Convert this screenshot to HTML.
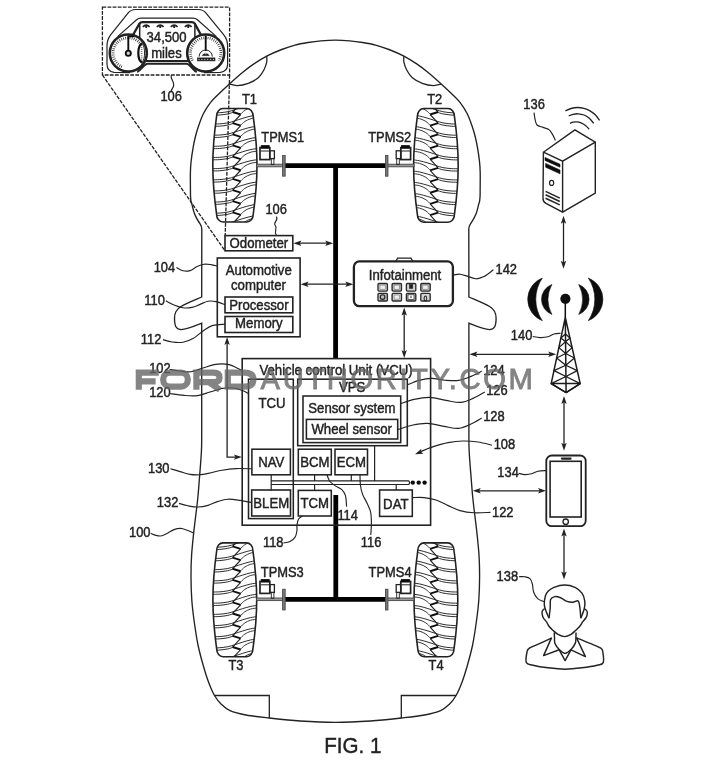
<!DOCTYPE html>
<html lang="en">
<head>
<meta charset="utf-8">
<title>FIG. 1 - Vehicle TPMS system diagram</title>
<style>
html,body{margin:0;padding:0;background:#fff;}
body{width:720px;height:765px;overflow:hidden;font-family:"Liberation Sans",sans-serif;}
svg{display:block;}
svg text{font-family:"Liberation Sans",sans-serif;}
</style>
</head>
<body>
<svg width="720" height="765" viewBox="0 0 720 765">
<defs><filter id="soft" x="0" y="0" width="720" height="765" filterUnits="userSpaceOnUse"><feGaussianBlur stdDeviation="0.42"/></filter></defs>
<g filter="url(#soft)">
<rect x="-5" y="-5" width="730" height="775" fill="#fff"/>
<path d="M190.5,196 C190.48,192.07 190.28,178.3 190.4,172.4 C190.52,166.5 190.78,164.53 191.2,160.6 C191.62,156.67 192.22,152.73 192.9,148.8 C193.58,144.87 194.32,140.92 195.3,137 C196.28,133.08 197.43,129.22 198.8,125.3 C200.17,121.38 201.5,117.35 203.5,113.5 C205.5,109.65 208.48,105.25 210.8,102.2 C213.12,99.15 214.3,98.25 217.4,95.2 C220.5,92.15 225.17,87.73 229.4,83.9 C233.63,80.07 238.72,75.53 242.8,72.2 C246.88,68.87 249.92,66.58 253.9,63.9 C257.88,61.22 262.07,58.5 266.7,56.1 C271.33,53.7 276.98,51.33 281.7,49.5 C286.42,47.67 290.62,46.27 295,45.1 C299.38,43.93 303.67,43.22 308,42.5 C312.33,41.78 316.45,41.2 321,40.8 C325.55,40.4 330.53,40.1 335.3,40.1 C340.07,40.1 345.05,40.4 349.6,40.8 C354.15,41.2 358.27,41.78 362.6,42.5 C366.93,43.22 371.22,43.93 375.6,45.1 C379.98,46.27 384.18,47.67 388.9,49.5 C393.62,51.33 399.27,53.7 403.9,56.1 C408.53,58.5 412.72,61.22 416.7,63.9 C420.68,66.58 423.72,68.87 427.8,72.2 C431.88,75.53 436.97,80.07 441.2,83.9 C445.43,87.73 450.1,92.15 453.2,95.2 C456.3,98.25 457.48,99.15 459.8,102.2 C462.12,105.25 465.1,109.65 467.1,113.5 C469.1,117.35 470.43,121.38 471.8,125.3 C473.17,129.22 474.32,133.08 475.3,137 C476.28,140.92 477.02,144.87 477.7,148.8 C478.38,152.73 478.98,156.67 479.4,160.6 C479.82,164.53 480.08,166.5 480.2,172.4 C480.32,178.3 480.12,192.07 480.1,196" fill="none" stroke="#222" stroke-width="1.35" />
<path d="M201.7,436 C201.65,438.67 201.8,444.67 201.4,452 C201,459.33 199.93,472 199.3,480 C198.67,488 198.48,491.67 197.6,500 C196.72,508.33 195,520.83 194,530 C193,539.17 192.1,547.17 191.6,555 C191.1,562.83 190.97,569.5 191,577 C191.03,584.5 191.3,592.83 191.8,600 C192.3,607.17 192.97,612.5 194,620 C195.03,627.5 196.43,637.33 198,645 C199.57,652.67 201.65,659.83 203.4,666 C205.15,672.17 206.65,677.08 208.5,682 C210.35,686.92 212.33,691.75 214.5,695.5 C216.67,699.25 218.92,701.98 221.5,704.5 C224.08,707.02 225.92,708.85 230,710.6 C234.08,712.35 239.5,713.77 246,715 C252.5,716.23 260,717 269,718 C278,719 288.95,720.27 300,721 C311.05,721.73 323.53,722.4 335.3,722.4 C347.07,722.4 359.55,721.73 370.6,721 C381.65,720.27 392.6,719 401.6,718 C410.6,717 418.1,716.23 424.6,715 C431.1,713.77 436.52,712.35 440.6,710.6 C444.68,708.85 446.52,707.02 449.1,704.5 C451.68,701.98 453.93,699.25 456.1,695.5 C458.27,691.75 460.25,686.92 462.1,682 C463.95,677.08 465.45,672.17 467.2,666 C468.95,659.83 471.03,652.67 472.6,645 C474.17,637.33 475.57,627.5 476.6,620 C477.63,612.5 478.3,607.17 478.8,600 C479.3,592.83 479.57,584.5 479.6,577 C479.63,569.5 479.5,562.83 479,555 C478.5,547.17 477.6,539.17 476.6,530 C475.6,520.83 473.88,508.33 473,500 C472.12,491.67 471.93,488 471.3,480 C470.67,472 469.6,459.33 469.2,452 C468.8,444.67 468.95,438.67 468.9,436" fill="none" stroke="#222" stroke-width="1.35" />
<g>
<path d="M190.5,196 C190.6,201 191.2,203 192,204.6 C192.8,208 193.4,211 194.6,213.9 C196,217.6 198.4,221.4 200.4,224.4 C201.4,226 201.8,227 201.8,229 L201.7,297 C196,299.5 186,303.5 181,306.5 C176,309.5 174.5,313 174.5,318 C174.5,326 176,329.5 181,329.6 C187,329.6 196,325.5 201.7,323.2 L201.7,436" fill="none" stroke="#222" stroke-width="1.35" />
<path d="M266.7,56.1 C266.7,57.12 267.17,59.88 266.7,62.2 C266.23,64.52 265.3,67.4 263.9,70 C262.5,72.6 260.9,75.58 258.3,77.8 C255.7,80.02 251.82,82 248.3,83.3 C244.78,84.6 240.35,85.47 237.2,85.6 C234.05,85.73 230.7,84.35 229.4,84.1" fill="none" stroke="#222" stroke-width="1.3" />
<path d="M214.5,695.5 L269.3,695.5 L269.3,718" fill="none" stroke="#222" stroke-width="1.3" />
</g>
<g transform="translate(670.6,0) scale(-1,1)">
<path d="M190.5,196 C190.6,201 191.2,203 192,204.6 C192.8,208 193.4,211 194.6,213.9 C196,217.6 198.4,221.4 200.4,224.4 C201.4,226 201.8,227 201.8,229 L201.7,297 C196,299.5 186,303.5 181,306.5 C176,309.5 174.5,313 174.5,318 C174.5,326 176,329.5 181,329.6 C187,329.6 196,325.5 201.7,323.2 L201.7,436" fill="none" stroke="#222" stroke-width="1.35" />
<path d="M266.7,56.1 C266.7,57.12 267.17,59.88 266.7,62.2 C266.23,64.52 265.3,67.4 263.9,70 C262.5,72.6 260.9,75.58 258.3,77.8 C255.7,80.02 251.82,82 248.3,83.3 C244.78,84.6 240.35,85.47 237.2,85.6 C234.05,85.73 230.7,84.35 229.4,84.1" fill="none" stroke="#222" stroke-width="1.3" />
<path d="M214.5,695.5 L269.3,695.5 L269.3,718" fill="none" stroke="#222" stroke-width="1.3" />
</g>
<g>
<clipPath id="tc13"><path d="M223,108.5 L246.8,108.5 C250.38,108.5 253.2,111.84 253.2,116.1 C255.3,131.2 257,147.09 257,165.25 C257,183.41 255.3,199.3 253.2,214.4 C253.2,218.66 250.38,222 246.8,222 L223,222 C219.42,222 216.6,218.66 216.6,214.4 C214.5,199.3 212.8,183.41 212.8,165.25 C212.8,147.09 214.5,131.2 216.6,116.1 C216.6,111.84 219.42,108.5 223,108.5Z"/></clipPath>
<g clip-path="url(#tc13)">
<path d="M211.8,101.75 C213.13,101.72 217.12,101.75 219.8,101.55 C222.48,101.35 225.38,101.05 227.9,100.55 C230.42,100.05 232.4,99.32 234.9,98.55 C237.4,97.78 240.22,96.75 242.9,95.95 C245.58,95.15 248.48,94.28 251,93.75 C253.52,93.22 256.83,92.92 258,92.75" fill="none" stroke="#222" stroke-width="0.95" />
<path d="M211.8,104.05 C213.13,104.02 217.12,104.07 219.8,103.85 C222.48,103.63 225.63,103.22 227.9,102.75 C230.17,102.28 232.48,101.33 233.4,101.05" fill="none" stroke="#222" stroke-width="0.95" />
<path d="M240.4,103.25 C241.15,102.57 243.13,100.3 244.9,99.15 C246.67,98 248.82,96.98 251,96.35 C253.18,95.72 256.83,95.52 258,95.35" fill="none" stroke="#222" stroke-width="0.9" />
<path d="M232.7,100.85 L240.7,103.35" fill="none" stroke="#111" stroke-width="1.9" />
<path d="M240.7,103.35 L232.7,112" fill="none" stroke="#222" stroke-width="1.15" />
<path d="M211.8,112.9 C213.13,112.87 217.12,112.9 219.8,112.7 C222.48,112.5 225.38,112.2 227.9,111.7 C230.42,111.2 232.4,110.47 234.9,109.7 C237.4,108.93 240.22,107.9 242.9,107.1 C245.58,106.3 248.48,105.43 251,104.9 C253.52,104.37 256.83,104.07 258,103.9" fill="none" stroke="#222" stroke-width="0.95" />
<path d="M211.8,115.2 C213.13,115.17 217.12,115.22 219.8,115 C222.48,114.78 225.63,114.37 227.9,113.9 C230.17,113.43 232.48,112.48 233.4,112.2" fill="none" stroke="#222" stroke-width="0.95" />
<path d="M240.4,114.4 C241.15,113.72 243.13,111.45 244.9,110.3 C246.67,109.15 248.82,108.13 251,107.5 C253.18,106.87 256.83,106.67 258,106.5" fill="none" stroke="#222" stroke-width="0.9" />
<path d="M232.7,112 L240.7,114.5" fill="none" stroke="#111" stroke-width="1.9" />
<path d="M240.7,114.5 L232.7,123.15" fill="none" stroke="#222" stroke-width="1.15" />
<path d="M211.8,124.05 C213.13,124.02 217.12,124.05 219.8,123.85 C222.48,123.65 225.38,123.35 227.9,122.85 C230.42,122.35 232.4,121.62 234.9,120.85 C237.4,120.08 240.22,119.05 242.9,118.25 C245.58,117.45 248.48,116.58 251,116.05 C253.52,115.52 256.83,115.22 258,115.05" fill="none" stroke="#222" stroke-width="0.95" />
<path d="M211.8,126.35 C213.13,126.32 217.12,126.37 219.8,126.15 C222.48,125.93 225.63,125.52 227.9,125.05 C230.17,124.58 232.48,123.63 233.4,123.35" fill="none" stroke="#222" stroke-width="0.95" />
<path d="M240.4,125.55 C241.15,124.87 243.13,122.6 244.9,121.45 C246.67,120.3 248.82,119.28 251,118.65 C253.18,118.02 256.83,117.82 258,117.65" fill="none" stroke="#222" stroke-width="0.9" />
<path d="M232.7,123.15 L240.7,125.65" fill="none" stroke="#111" stroke-width="1.9" />
<path d="M240.7,125.65 L232.7,134.3" fill="none" stroke="#222" stroke-width="1.15" />
<path d="M211.8,135.2 C213.13,135.17 217.12,135.2 219.8,135 C222.48,134.8 225.38,134.5 227.9,134 C230.42,133.5 232.4,132.77 234.9,132 C237.4,131.23 240.22,130.2 242.9,129.4 C245.58,128.6 248.48,127.73 251,127.2 C253.52,126.67 256.83,126.37 258,126.2" fill="none" stroke="#222" stroke-width="0.95" />
<path d="M211.8,137.5 C213.13,137.47 217.12,137.52 219.8,137.3 C222.48,137.08 225.63,136.67 227.9,136.2 C230.17,135.73 232.48,134.78 233.4,134.5" fill="none" stroke="#222" stroke-width="0.95" />
<path d="M240.4,136.7 C241.15,136.02 243.13,133.75 244.9,132.6 C246.67,131.45 248.82,130.43 251,129.8 C253.18,129.17 256.83,128.97 258,128.8" fill="none" stroke="#222" stroke-width="0.9" />
<path d="M232.7,134.3 L240.7,136.8" fill="none" stroke="#111" stroke-width="1.9" />
<path d="M240.7,136.8 L232.7,145.45" fill="none" stroke="#222" stroke-width="1.15" />
<path d="M211.8,146.35 C213.13,146.32 217.12,146.35 219.8,146.15 C222.48,145.95 225.38,145.65 227.9,145.15 C230.42,144.65 232.4,143.92 234.9,143.15 C237.4,142.38 240.22,141.35 242.9,140.55 C245.58,139.75 248.48,138.88 251,138.35 C253.52,137.82 256.83,137.52 258,137.35" fill="none" stroke="#222" stroke-width="0.95" />
<path d="M211.8,148.65 C213.13,148.62 217.12,148.67 219.8,148.45 C222.48,148.23 225.63,147.82 227.9,147.35 C230.17,146.88 232.48,145.93 233.4,145.65" fill="none" stroke="#222" stroke-width="0.95" />
<path d="M240.4,147.85 C241.15,147.17 243.13,144.9 244.9,143.75 C246.67,142.6 248.82,141.58 251,140.95 C253.18,140.32 256.83,140.12 258,139.95" fill="none" stroke="#222" stroke-width="0.9" />
<path d="M232.7,145.45 L240.7,147.95" fill="none" stroke="#111" stroke-width="1.9" />
<path d="M240.7,147.95 L232.7,156.6" fill="none" stroke="#222" stroke-width="1.15" />
<path d="M211.8,157.5 C213.13,157.47 217.12,157.5 219.8,157.3 C222.48,157.1 225.38,156.8 227.9,156.3 C230.42,155.8 232.4,155.07 234.9,154.3 C237.4,153.53 240.22,152.5 242.9,151.7 C245.58,150.9 248.48,150.03 251,149.5 C253.52,148.97 256.83,148.67 258,148.5" fill="none" stroke="#222" stroke-width="0.95" />
<path d="M211.8,159.8 C213.13,159.77 217.12,159.82 219.8,159.6 C222.48,159.38 225.63,158.97 227.9,158.5 C230.17,158.03 232.48,157.08 233.4,156.8" fill="none" stroke="#222" stroke-width="0.95" />
<path d="M240.4,159 C241.15,158.32 243.13,156.05 244.9,154.9 C246.67,153.75 248.82,152.73 251,152.1 C253.18,151.47 256.83,151.27 258,151.1" fill="none" stroke="#222" stroke-width="0.9" />
<path d="M232.7,156.6 L240.7,159.1" fill="none" stroke="#111" stroke-width="1.9" />
<path d="M240.7,159.1 L232.7,167.75" fill="none" stroke="#222" stroke-width="1.15" />
<path d="M211.8,168.65 C213.13,168.62 217.12,168.65 219.8,168.45 C222.48,168.25 225.38,167.95 227.9,167.45 C230.42,166.95 232.4,166.22 234.9,165.45 C237.4,164.68 240.22,163.65 242.9,162.85 C245.58,162.05 248.48,161.18 251,160.65 C253.52,160.12 256.83,159.82 258,159.65" fill="none" stroke="#222" stroke-width="0.95" />
<path d="M211.8,170.95 C213.13,170.92 217.12,170.97 219.8,170.75 C222.48,170.53 225.63,170.12 227.9,169.65 C230.17,169.18 232.48,168.23 233.4,167.95" fill="none" stroke="#222" stroke-width="0.95" />
<path d="M240.4,170.15 C241.15,169.47 243.13,167.2 244.9,166.05 C246.67,164.9 248.82,163.88 251,163.25 C253.18,162.62 256.83,162.42 258,162.25" fill="none" stroke="#222" stroke-width="0.9" />
<path d="M232.7,167.75 L240.7,170.25" fill="none" stroke="#111" stroke-width="1.9" />
<path d="M240.7,170.25 L232.7,178.9" fill="none" stroke="#222" stroke-width="1.15" />
<path d="M211.8,179.8 C213.13,179.77 217.12,179.8 219.8,179.6 C222.48,179.4 225.38,179.1 227.9,178.6 C230.42,178.1 232.4,177.37 234.9,176.6 C237.4,175.83 240.22,174.8 242.9,174 C245.58,173.2 248.48,172.33 251,171.8 C253.52,171.27 256.83,170.97 258,170.8" fill="none" stroke="#222" stroke-width="0.95" />
<path d="M211.8,182.1 C213.13,182.07 217.12,182.12 219.8,181.9 C222.48,181.68 225.63,181.27 227.9,180.8 C230.17,180.33 232.48,179.38 233.4,179.1" fill="none" stroke="#222" stroke-width="0.95" />
<path d="M240.4,181.3 C241.15,180.62 243.13,178.35 244.9,177.2 C246.67,176.05 248.82,175.03 251,174.4 C253.18,173.77 256.83,173.57 258,173.4" fill="none" stroke="#222" stroke-width="0.9" />
<path d="M232.7,178.9 L240.7,181.4" fill="none" stroke="#111" stroke-width="1.9" />
<path d="M240.7,181.4 L232.7,190.05" fill="none" stroke="#222" stroke-width="1.15" />
<path d="M211.8,190.95 C213.13,190.92 217.12,190.95 219.8,190.75 C222.48,190.55 225.38,190.25 227.9,189.75 C230.42,189.25 232.4,188.52 234.9,187.75 C237.4,186.98 240.22,185.95 242.9,185.15 C245.58,184.35 248.48,183.48 251,182.95 C253.52,182.42 256.83,182.12 258,181.95" fill="none" stroke="#222" stroke-width="0.95" />
<path d="M211.8,193.25 C213.13,193.22 217.12,193.27 219.8,193.05 C222.48,192.83 225.63,192.42 227.9,191.95 C230.17,191.48 232.48,190.53 233.4,190.25" fill="none" stroke="#222" stroke-width="0.95" />
<path d="M240.4,192.45 C241.15,191.77 243.13,189.5 244.9,188.35 C246.67,187.2 248.82,186.18 251,185.55 C253.18,184.92 256.83,184.72 258,184.55" fill="none" stroke="#222" stroke-width="0.9" />
<path d="M232.7,190.05 L240.7,192.55" fill="none" stroke="#111" stroke-width="1.9" />
<path d="M240.7,192.55 L232.7,201.2" fill="none" stroke="#222" stroke-width="1.15" />
<path d="M211.8,202.1 C213.13,202.07 217.12,202.1 219.8,201.9 C222.48,201.7 225.38,201.4 227.9,200.9 C230.42,200.4 232.4,199.67 234.9,198.9 C237.4,198.13 240.22,197.1 242.9,196.3 C245.58,195.5 248.48,194.63 251,194.1 C253.52,193.57 256.83,193.27 258,193.1" fill="none" stroke="#222" stroke-width="0.95" />
<path d="M211.8,204.4 C213.13,204.37 217.12,204.42 219.8,204.2 C222.48,203.98 225.63,203.57 227.9,203.1 C230.17,202.63 232.48,201.68 233.4,201.4" fill="none" stroke="#222" stroke-width="0.95" />
<path d="M240.4,203.6 C241.15,202.92 243.13,200.65 244.9,199.5 C246.67,198.35 248.82,197.33 251,196.7 C253.18,196.07 256.83,195.87 258,195.7" fill="none" stroke="#222" stroke-width="0.9" />
<path d="M232.7,201.2 L240.7,203.7" fill="none" stroke="#111" stroke-width="1.9" />
<path d="M240.7,203.7 L232.7,212.35" fill="none" stroke="#222" stroke-width="1.15" />
<path d="M211.8,213.25 C213.13,213.22 217.12,213.25 219.8,213.05 C222.48,212.85 225.38,212.55 227.9,212.05 C230.42,211.55 232.4,210.82 234.9,210.05 C237.4,209.28 240.22,208.25 242.9,207.45 C245.58,206.65 248.48,205.78 251,205.25 C253.52,204.72 256.83,204.42 258,204.25" fill="none" stroke="#222" stroke-width="0.95" />
<path d="M211.8,215.55 C213.13,215.52 217.12,215.57 219.8,215.35 C222.48,215.13 225.63,214.72 227.9,214.25 C230.17,213.78 232.48,212.83 233.4,212.55" fill="none" stroke="#222" stroke-width="0.95" />
<path d="M240.4,214.75 C241.15,214.07 243.13,211.8 244.9,210.65 C246.67,209.5 248.82,208.48 251,207.85 C253.18,207.22 256.83,207.02 258,206.85" fill="none" stroke="#222" stroke-width="0.9" />
<path d="M232.7,212.35 L240.7,214.85" fill="none" stroke="#111" stroke-width="1.9" />
<path d="M240.7,214.85 L232.7,223.5" fill="none" stroke="#222" stroke-width="1.15" />
<path d="M211.8,224.4 C213.13,224.37 217.12,224.4 219.8,224.2 C222.48,224 225.38,223.7 227.9,223.2 C230.42,222.7 232.4,221.97 234.9,221.2 C237.4,220.43 240.22,219.4 242.9,218.6 C245.58,217.8 248.48,216.93 251,216.4 C253.52,215.87 256.83,215.57 258,215.4" fill="none" stroke="#222" stroke-width="0.95" />
<path d="M211.8,226.7 C213.13,226.67 217.12,226.72 219.8,226.5 C222.48,226.28 225.63,225.87 227.9,225.4 C230.17,224.93 232.48,223.98 233.4,223.7" fill="none" stroke="#222" stroke-width="0.95" />
<path d="M240.4,225.9 C241.15,225.22 243.13,222.95 244.9,221.8 C246.67,220.65 248.82,219.63 251,219 C253.18,218.37 256.83,218.17 258,218" fill="none" stroke="#222" stroke-width="0.9" />
<path d="M232.7,223.5 L240.7,226" fill="none" stroke="#111" stroke-width="1.9" />
<path d="M240.7,226 L232.7,234.65" fill="none" stroke="#222" stroke-width="1.15" />
<path d="M211.8,235.55 C213.13,235.52 217.12,235.55 219.8,235.35 C222.48,235.15 225.38,234.85 227.9,234.35 C230.42,233.85 232.4,233.12 234.9,232.35 C237.4,231.58 240.22,230.55 242.9,229.75 C245.58,228.95 248.48,228.08 251,227.55 C253.52,227.02 256.83,226.72 258,226.55" fill="none" stroke="#222" stroke-width="0.95" />
<path d="M211.8,237.85 C213.13,237.82 217.12,237.87 219.8,237.65 C222.48,237.43 225.63,237.02 227.9,236.55 C230.17,236.08 232.48,235.13 233.4,234.85" fill="none" stroke="#222" stroke-width="0.95" />
<path d="M240.4,237.05 C241.15,236.37 243.13,234.1 244.9,232.95 C246.67,231.8 248.82,230.78 251,230.15 C253.18,229.52 256.83,229.32 258,229.15" fill="none" stroke="#222" stroke-width="0.9" />
<path d="M232.7,234.65 L240.7,237.15" fill="none" stroke="#111" stroke-width="1.9" />
<path d="M240.7,237.15 L232.7,245.8" fill="none" stroke="#222" stroke-width="1.15" />
</g>
<path d="M223,108.5 L246.8,108.5 C250.38,108.5 253.2,111.84 253.2,116.1 C255.3,131.2 257,147.09 257,165.25 C257,183.41 255.3,199.3 253.2,214.4 C253.2,218.66 250.38,222 246.8,222 L223,222 C219.42,222 216.6,218.66 216.6,214.4 C214.5,199.3 212.8,183.41 212.8,165.25 C212.8,147.09 214.5,131.2 216.6,116.1 C216.6,111.84 219.42,108.5 223,108.5Z" fill="none" stroke="#222" stroke-width="1.6" />
</g>
<g transform="translate(871.8,0) scale(-1,1)">
<clipPath id="tc84"><path d="M423.8,108.5 L448,108.5 C451.58,108.5 454.4,111.84 454.4,116.1 C456.5,131.26 458.2,147.19 458.2,165.4 C458.2,183.61 456.5,199.54 454.4,214.7 C454.4,218.96 451.58,222.3 448,222.3 L423.8,222.3 C420.22,222.3 417.4,218.96 417.4,214.7 C415.3,199.54 413.6,183.61 413.6,165.4 C413.6,147.19 415.3,131.26 417.4,116.1 C417.4,111.84 420.22,108.5 423.8,108.5Z"/></clipPath>
<g clip-path="url(#tc84)">
<path d="M412.6,101.72 C413.93,101.69 417.88,101.72 420.6,101.52 C423.32,101.32 426.35,101.02 428.9,100.52 C431.45,100.02 433.4,99.29 435.9,98.52 C438.4,97.75 441.18,96.72 443.9,95.92 C446.62,95.12 449.65,94.25 452.2,93.72 C454.75,93.19 458.03,92.89 459.2,92.72" fill="none" stroke="#222" stroke-width="0.95" />
<path d="M412.6,104.02 C413.93,103.99 417.88,104.04 420.6,103.82 C423.32,103.6 426.6,103.19 428.9,102.72 C431.2,102.25 433.48,101.3 434.4,101.02" fill="none" stroke="#222" stroke-width="0.95" />
<path d="M441.4,103.22 C442.15,102.54 444.1,100.27 445.9,99.12 C447.7,97.97 449.98,96.95 452.2,96.32 C454.42,95.69 458.03,95.49 459.2,95.32" fill="none" stroke="#222" stroke-width="0.9" />
<path d="M433.7,100.82 L441.7,103.32" fill="none" stroke="#111" stroke-width="1.9" />
<path d="M441.7,103.32 L433.7,112" fill="none" stroke="#222" stroke-width="1.15" />
<path d="M412.6,112.9 C413.93,112.87 417.88,112.9 420.6,112.7 C423.32,112.5 426.35,112.2 428.9,111.7 C431.45,111.2 433.4,110.47 435.9,109.7 C438.4,108.93 441.18,107.9 443.9,107.1 C446.62,106.3 449.65,105.43 452.2,104.9 C454.75,104.37 458.03,104.07 459.2,103.9" fill="none" stroke="#222" stroke-width="0.95" />
<path d="M412.6,115.2 C413.93,115.17 417.88,115.22 420.6,115 C423.32,114.78 426.6,114.37 428.9,113.9 C431.2,113.43 433.48,112.48 434.4,112.2" fill="none" stroke="#222" stroke-width="0.95" />
<path d="M441.4,114.4 C442.15,113.72 444.1,111.45 445.9,110.3 C447.7,109.15 449.98,108.13 452.2,107.5 C454.42,106.87 458.03,106.67 459.2,106.5" fill="none" stroke="#222" stroke-width="0.9" />
<path d="M433.7,112 L441.7,114.5" fill="none" stroke="#111" stroke-width="1.9" />
<path d="M441.7,114.5 L433.7,123.18" fill="none" stroke="#222" stroke-width="1.15" />
<path d="M412.6,124.08 C413.93,124.05 417.88,124.08 420.6,123.88 C423.32,123.68 426.35,123.38 428.9,122.88 C431.45,122.38 433.4,121.65 435.9,120.88 C438.4,120.11 441.18,119.08 443.9,118.28 C446.62,117.48 449.65,116.61 452.2,116.08 C454.75,115.55 458.03,115.25 459.2,115.08" fill="none" stroke="#222" stroke-width="0.95" />
<path d="M412.6,126.38 C413.93,126.35 417.88,126.4 420.6,126.18 C423.32,125.96 426.6,125.55 428.9,125.08 C431.2,124.61 433.48,123.66 434.4,123.38" fill="none" stroke="#222" stroke-width="0.95" />
<path d="M441.4,125.58 C442.15,124.9 444.1,122.63 445.9,121.48 C447.7,120.33 449.98,119.31 452.2,118.68 C454.42,118.05 458.03,117.85 459.2,117.68" fill="none" stroke="#222" stroke-width="0.9" />
<path d="M433.7,123.18 L441.7,125.68" fill="none" stroke="#111" stroke-width="1.9" />
<path d="M441.7,125.68 L433.7,134.36" fill="none" stroke="#222" stroke-width="1.15" />
<path d="M412.6,135.26 C413.93,135.23 417.88,135.26 420.6,135.06 C423.32,134.86 426.35,134.56 428.9,134.06 C431.45,133.56 433.4,132.83 435.9,132.06 C438.4,131.29 441.18,130.26 443.9,129.46 C446.62,128.66 449.65,127.79 452.2,127.26 C454.75,126.73 458.03,126.43 459.2,126.26" fill="none" stroke="#222" stroke-width="0.95" />
<path d="M412.6,137.56 C413.93,137.53 417.88,137.58 420.6,137.36 C423.32,137.14 426.6,136.73 428.9,136.26 C431.2,135.79 433.48,134.84 434.4,134.56" fill="none" stroke="#222" stroke-width="0.95" />
<path d="M441.4,136.76 C442.15,136.08 444.1,133.81 445.9,132.66 C447.7,131.51 449.98,130.49 452.2,129.86 C454.42,129.23 458.03,129.03 459.2,128.86" fill="none" stroke="#222" stroke-width="0.9" />
<path d="M433.7,134.36 L441.7,136.86" fill="none" stroke="#111" stroke-width="1.9" />
<path d="M441.7,136.86 L433.7,145.54" fill="none" stroke="#222" stroke-width="1.15" />
<path d="M412.6,146.44 C413.93,146.41 417.88,146.44 420.6,146.24 C423.32,146.04 426.35,145.74 428.9,145.24 C431.45,144.74 433.4,144.01 435.9,143.24 C438.4,142.47 441.18,141.44 443.9,140.64 C446.62,139.84 449.65,138.97 452.2,138.44 C454.75,137.91 458.03,137.61 459.2,137.44" fill="none" stroke="#222" stroke-width="0.95" />
<path d="M412.6,148.74 C413.93,148.71 417.88,148.76 420.6,148.54 C423.32,148.32 426.6,147.91 428.9,147.44 C431.2,146.97 433.48,146.02 434.4,145.74" fill="none" stroke="#222" stroke-width="0.95" />
<path d="M441.4,147.94 C442.15,147.26 444.1,144.99 445.9,143.84 C447.7,142.69 449.98,141.67 452.2,141.04 C454.42,140.41 458.03,140.21 459.2,140.04" fill="none" stroke="#222" stroke-width="0.9" />
<path d="M433.7,145.54 L441.7,148.04" fill="none" stroke="#111" stroke-width="1.9" />
<path d="M441.7,148.04 L433.7,156.72" fill="none" stroke="#222" stroke-width="1.15" />
<path d="M412.6,157.62 C413.93,157.59 417.88,157.62 420.6,157.42 C423.32,157.22 426.35,156.92 428.9,156.42 C431.45,155.92 433.4,155.19 435.9,154.42 C438.4,153.65 441.18,152.62 443.9,151.82 C446.62,151.02 449.65,150.15 452.2,149.62 C454.75,149.09 458.03,148.79 459.2,148.62" fill="none" stroke="#222" stroke-width="0.95" />
<path d="M412.6,159.92 C413.93,159.89 417.88,159.94 420.6,159.72 C423.32,159.5 426.6,159.09 428.9,158.62 C431.2,158.15 433.48,157.2 434.4,156.92" fill="none" stroke="#222" stroke-width="0.95" />
<path d="M441.4,159.12 C442.15,158.44 444.1,156.17 445.9,155.02 C447.7,153.87 449.98,152.85 452.2,152.22 C454.42,151.59 458.03,151.39 459.2,151.22" fill="none" stroke="#222" stroke-width="0.9" />
<path d="M433.7,156.72 L441.7,159.22" fill="none" stroke="#111" stroke-width="1.9" />
<path d="M441.7,159.22 L433.7,167.9" fill="none" stroke="#222" stroke-width="1.15" />
<path d="M412.6,168.8 C413.93,168.77 417.88,168.8 420.6,168.6 C423.32,168.4 426.35,168.1 428.9,167.6 C431.45,167.1 433.4,166.37 435.9,165.6 C438.4,164.83 441.18,163.8 443.9,163 C446.62,162.2 449.65,161.33 452.2,160.8 C454.75,160.27 458.03,159.97 459.2,159.8" fill="none" stroke="#222" stroke-width="0.95" />
<path d="M412.6,171.1 C413.93,171.07 417.88,171.12 420.6,170.9 C423.32,170.68 426.6,170.27 428.9,169.8 C431.2,169.33 433.48,168.38 434.4,168.1" fill="none" stroke="#222" stroke-width="0.95" />
<path d="M441.4,170.3 C442.15,169.62 444.1,167.35 445.9,166.2 C447.7,165.05 449.98,164.03 452.2,163.4 C454.42,162.77 458.03,162.57 459.2,162.4" fill="none" stroke="#222" stroke-width="0.9" />
<path d="M433.7,167.9 L441.7,170.4" fill="none" stroke="#111" stroke-width="1.9" />
<path d="M441.7,170.4 L433.7,179.08" fill="none" stroke="#222" stroke-width="1.15" />
<path d="M412.6,179.98 C413.93,179.95 417.88,179.98 420.6,179.78 C423.32,179.58 426.35,179.28 428.9,178.78 C431.45,178.28 433.4,177.55 435.9,176.78 C438.4,176.01 441.18,174.98 443.9,174.18 C446.62,173.38 449.65,172.51 452.2,171.98 C454.75,171.45 458.03,171.15 459.2,170.98" fill="none" stroke="#222" stroke-width="0.95" />
<path d="M412.6,182.28 C413.93,182.25 417.88,182.3 420.6,182.08 C423.32,181.86 426.6,181.45 428.9,180.98 C431.2,180.51 433.48,179.56 434.4,179.28" fill="none" stroke="#222" stroke-width="0.95" />
<path d="M441.4,181.48 C442.15,180.8 444.1,178.53 445.9,177.38 C447.7,176.23 449.98,175.21 452.2,174.58 C454.42,173.95 458.03,173.75 459.2,173.58" fill="none" stroke="#222" stroke-width="0.9" />
<path d="M433.7,179.08 L441.7,181.58" fill="none" stroke="#111" stroke-width="1.9" />
<path d="M441.7,181.58 L433.7,190.26" fill="none" stroke="#222" stroke-width="1.15" />
<path d="M412.6,191.16 C413.93,191.13 417.88,191.16 420.6,190.96 C423.32,190.76 426.35,190.46 428.9,189.96 C431.45,189.46 433.4,188.73 435.9,187.96 C438.4,187.19 441.18,186.16 443.9,185.36 C446.62,184.56 449.65,183.69 452.2,183.16 C454.75,182.63 458.03,182.33 459.2,182.16" fill="none" stroke="#222" stroke-width="0.95" />
<path d="M412.6,193.46 C413.93,193.43 417.88,193.48 420.6,193.26 C423.32,193.04 426.6,192.63 428.9,192.16 C431.2,191.69 433.48,190.74 434.4,190.46" fill="none" stroke="#222" stroke-width="0.95" />
<path d="M441.4,192.66 C442.15,191.98 444.1,189.71 445.9,188.56 C447.7,187.41 449.98,186.39 452.2,185.76 C454.42,185.13 458.03,184.93 459.2,184.76" fill="none" stroke="#222" stroke-width="0.9" />
<path d="M433.7,190.26 L441.7,192.76" fill="none" stroke="#111" stroke-width="1.9" />
<path d="M441.7,192.76 L433.7,201.44" fill="none" stroke="#222" stroke-width="1.15" />
<path d="M412.6,202.34 C413.93,202.31 417.88,202.34 420.6,202.14 C423.32,201.94 426.35,201.64 428.9,201.14 C431.45,200.64 433.4,199.91 435.9,199.14 C438.4,198.37 441.18,197.34 443.9,196.54 C446.62,195.74 449.65,194.87 452.2,194.34 C454.75,193.81 458.03,193.51 459.2,193.34" fill="none" stroke="#222" stroke-width="0.95" />
<path d="M412.6,204.64 C413.93,204.61 417.88,204.66 420.6,204.44 C423.32,204.22 426.6,203.81 428.9,203.34 C431.2,202.87 433.48,201.92 434.4,201.64" fill="none" stroke="#222" stroke-width="0.95" />
<path d="M441.4,203.84 C442.15,203.16 444.1,200.89 445.9,199.74 C447.7,198.59 449.98,197.57 452.2,196.94 C454.42,196.31 458.03,196.11 459.2,195.94" fill="none" stroke="#222" stroke-width="0.9" />
<path d="M433.7,201.44 L441.7,203.94" fill="none" stroke="#111" stroke-width="1.9" />
<path d="M441.7,203.94 L433.7,212.62" fill="none" stroke="#222" stroke-width="1.15" />
<path d="M412.6,213.52 C413.93,213.49 417.88,213.52 420.6,213.32 C423.32,213.12 426.35,212.82 428.9,212.32 C431.45,211.82 433.4,211.09 435.9,210.32 C438.4,209.55 441.18,208.52 443.9,207.72 C446.62,206.92 449.65,206.05 452.2,205.52 C454.75,204.99 458.03,204.69 459.2,204.52" fill="none" stroke="#222" stroke-width="0.95" />
<path d="M412.6,215.82 C413.93,215.79 417.88,215.84 420.6,215.62 C423.32,215.4 426.6,214.99 428.9,214.52 C431.2,214.05 433.48,213.1 434.4,212.82" fill="none" stroke="#222" stroke-width="0.95" />
<path d="M441.4,215.02 C442.15,214.34 444.1,212.07 445.9,210.92 C447.7,209.77 449.98,208.75 452.2,208.12 C454.42,207.49 458.03,207.29 459.2,207.12" fill="none" stroke="#222" stroke-width="0.9" />
<path d="M433.7,212.62 L441.7,215.12" fill="none" stroke="#111" stroke-width="1.9" />
<path d="M441.7,215.12 L433.7,223.8" fill="none" stroke="#222" stroke-width="1.15" />
<path d="M412.6,224.7 C413.93,224.67 417.88,224.7 420.6,224.5 C423.32,224.3 426.35,224 428.9,223.5 C431.45,223 433.4,222.27 435.9,221.5 C438.4,220.73 441.18,219.7 443.9,218.9 C446.62,218.1 449.65,217.23 452.2,216.7 C454.75,216.17 458.03,215.87 459.2,215.7" fill="none" stroke="#222" stroke-width="0.95" />
<path d="M412.6,227 C413.93,226.97 417.88,227.02 420.6,226.8 C423.32,226.58 426.6,226.17 428.9,225.7 C431.2,225.23 433.48,224.28 434.4,224" fill="none" stroke="#222" stroke-width="0.95" />
<path d="M441.4,226.2 C442.15,225.52 444.1,223.25 445.9,222.1 C447.7,220.95 449.98,219.93 452.2,219.3 C454.42,218.67 458.03,218.47 459.2,218.3" fill="none" stroke="#222" stroke-width="0.9" />
<path d="M433.7,223.8 L441.7,226.3" fill="none" stroke="#111" stroke-width="1.9" />
<path d="M441.7,226.3 L433.7,234.98" fill="none" stroke="#222" stroke-width="1.15" />
<path d="M412.6,235.88 C413.93,235.85 417.88,235.88 420.6,235.68 C423.32,235.48 426.35,235.18 428.9,234.68 C431.45,234.18 433.4,233.45 435.9,232.68 C438.4,231.91 441.18,230.88 443.9,230.08 C446.62,229.28 449.65,228.41 452.2,227.88 C454.75,227.35 458.03,227.05 459.2,226.88" fill="none" stroke="#222" stroke-width="0.95" />
<path d="M412.6,238.18 C413.93,238.15 417.88,238.2 420.6,237.98 C423.32,237.76 426.6,237.35 428.9,236.88 C431.2,236.41 433.48,235.46 434.4,235.18" fill="none" stroke="#222" stroke-width="0.95" />
<path d="M441.4,237.38 C442.15,236.7 444.1,234.43 445.9,233.28 C447.7,232.13 449.98,231.11 452.2,230.48 C454.42,229.85 458.03,229.65 459.2,229.48" fill="none" stroke="#222" stroke-width="0.9" />
<path d="M433.7,234.98 L441.7,237.48" fill="none" stroke="#111" stroke-width="1.9" />
<path d="M441.7,237.48 L433.7,246.16" fill="none" stroke="#222" stroke-width="1.15" />
</g>
<path d="M423.8,108.5 L448,108.5 C451.58,108.5 454.4,111.84 454.4,116.1 C456.5,131.26 458.2,147.19 458.2,165.4 C458.2,183.61 456.5,199.54 454.4,214.7 C454.4,218.96 451.58,222.3 448,222.3 L423.8,222.3 C420.22,222.3 417.4,218.96 417.4,214.7 C415.3,199.54 413.6,183.61 413.6,165.4 C413.6,147.19 415.3,131.26 417.4,116.1 C417.4,111.84 420.22,108.5 423.8,108.5Z" fill="none" stroke="#222" stroke-width="1.6" />
</g>
<g>
<clipPath id="tc155"><path d="M223.1,542.9 L246.5,542.9 C250.08,542.9 252.9,546.24 252.9,550.5 C255,565.66 256.7,581.59 256.7,599.8 C256.7,618.01 255,633.94 252.9,649.1 C252.9,653.36 250.08,656.7 246.5,656.7 L223.1,656.7 C219.52,656.7 216.7,653.36 216.7,649.1 C214.6,633.94 212.9,618.01 212.9,599.8 C212.9,581.59 214.6,565.66 216.7,550.5 C216.7,546.24 219.52,542.9 223.1,542.9Z"/></clipPath>
<g clip-path="url(#tc155)">
<path d="M211.9,536.12 C213.23,536.09 217.25,536.12 219.9,535.92 C222.55,535.72 225.32,535.42 227.8,534.92 C230.28,534.42 232.3,533.69 234.8,532.92 C237.3,532.15 240.15,531.12 242.8,530.32 C245.45,529.52 248.22,528.65 250.7,528.12 C253.18,527.59 256.53,527.29 257.7,527.12" fill="none" stroke="#222" stroke-width="0.95" />
<path d="M211.9,538.42 C213.23,538.39 217.25,538.44 219.9,538.22 C222.55,538 225.57,537.59 227.8,537.12 C230.03,536.65 232.38,535.7 233.3,535.42" fill="none" stroke="#222" stroke-width="0.95" />
<path d="M240.3,537.62 C241.05,536.94 243.07,534.67 244.8,533.52 C246.53,532.37 248.55,531.35 250.7,530.72 C252.85,530.09 256.53,529.89 257.7,529.72" fill="none" stroke="#222" stroke-width="0.9" />
<path d="M232.6,535.22 L240.6,537.72" fill="none" stroke="#111" stroke-width="1.9" />
<path d="M240.6,537.72 L232.6,546.4" fill="none" stroke="#222" stroke-width="1.15" />
<path d="M211.9,547.3 C213.23,547.27 217.25,547.3 219.9,547.1 C222.55,546.9 225.32,546.6 227.8,546.1 C230.28,545.6 232.3,544.87 234.8,544.1 C237.3,543.33 240.15,542.3 242.8,541.5 C245.45,540.7 248.22,539.83 250.7,539.3 C253.18,538.77 256.53,538.47 257.7,538.3" fill="none" stroke="#222" stroke-width="0.95" />
<path d="M211.9,549.6 C213.23,549.57 217.25,549.62 219.9,549.4 C222.55,549.18 225.57,548.77 227.8,548.3 C230.03,547.83 232.38,546.88 233.3,546.6" fill="none" stroke="#222" stroke-width="0.95" />
<path d="M240.3,548.8 C241.05,548.12 243.07,545.85 244.8,544.7 C246.53,543.55 248.55,542.53 250.7,541.9 C252.85,541.27 256.53,541.07 257.7,540.9" fill="none" stroke="#222" stroke-width="0.9" />
<path d="M232.6,546.4 L240.6,548.9" fill="none" stroke="#111" stroke-width="1.9" />
<path d="M240.6,548.9 L232.6,557.58" fill="none" stroke="#222" stroke-width="1.15" />
<path d="M211.9,558.48 C213.23,558.45 217.25,558.48 219.9,558.28 C222.55,558.08 225.32,557.78 227.8,557.28 C230.28,556.78 232.3,556.05 234.8,555.28 C237.3,554.51 240.15,553.48 242.8,552.68 C245.45,551.88 248.22,551.01 250.7,550.48 C253.18,549.95 256.53,549.65 257.7,549.48" fill="none" stroke="#222" stroke-width="0.95" />
<path d="M211.9,560.78 C213.23,560.75 217.25,560.8 219.9,560.58 C222.55,560.36 225.57,559.95 227.8,559.48 C230.03,559.01 232.38,558.06 233.3,557.78" fill="none" stroke="#222" stroke-width="0.95" />
<path d="M240.3,559.98 C241.05,559.3 243.07,557.03 244.8,555.88 C246.53,554.73 248.55,553.71 250.7,553.08 C252.85,552.45 256.53,552.25 257.7,552.08" fill="none" stroke="#222" stroke-width="0.9" />
<path d="M232.6,557.58 L240.6,560.08" fill="none" stroke="#111" stroke-width="1.9" />
<path d="M240.6,560.08 L232.6,568.76" fill="none" stroke="#222" stroke-width="1.15" />
<path d="M211.9,569.66 C213.23,569.63 217.25,569.66 219.9,569.46 C222.55,569.26 225.32,568.96 227.8,568.46 C230.28,567.96 232.3,567.23 234.8,566.46 C237.3,565.69 240.15,564.66 242.8,563.86 C245.45,563.06 248.22,562.19 250.7,561.66 C253.18,561.13 256.53,560.83 257.7,560.66" fill="none" stroke="#222" stroke-width="0.95" />
<path d="M211.9,571.96 C213.23,571.93 217.25,571.98 219.9,571.76 C222.55,571.54 225.57,571.13 227.8,570.66 C230.03,570.19 232.38,569.24 233.3,568.96" fill="none" stroke="#222" stroke-width="0.95" />
<path d="M240.3,571.16 C241.05,570.48 243.07,568.21 244.8,567.06 C246.53,565.91 248.55,564.89 250.7,564.26 C252.85,563.63 256.53,563.43 257.7,563.26" fill="none" stroke="#222" stroke-width="0.9" />
<path d="M232.6,568.76 L240.6,571.26" fill="none" stroke="#111" stroke-width="1.9" />
<path d="M240.6,571.26 L232.6,579.94" fill="none" stroke="#222" stroke-width="1.15" />
<path d="M211.9,580.84 C213.23,580.81 217.25,580.84 219.9,580.64 C222.55,580.44 225.32,580.14 227.8,579.64 C230.28,579.14 232.3,578.41 234.8,577.64 C237.3,576.87 240.15,575.84 242.8,575.04 C245.45,574.24 248.22,573.37 250.7,572.84 C253.18,572.31 256.53,572.01 257.7,571.84" fill="none" stroke="#222" stroke-width="0.95" />
<path d="M211.9,583.14 C213.23,583.11 217.25,583.16 219.9,582.94 C222.55,582.72 225.57,582.31 227.8,581.84 C230.03,581.37 232.38,580.42 233.3,580.14" fill="none" stroke="#222" stroke-width="0.95" />
<path d="M240.3,582.34 C241.05,581.66 243.07,579.39 244.8,578.24 C246.53,577.09 248.55,576.07 250.7,575.44 C252.85,574.81 256.53,574.61 257.7,574.44" fill="none" stroke="#222" stroke-width="0.9" />
<path d="M232.6,579.94 L240.6,582.44" fill="none" stroke="#111" stroke-width="1.9" />
<path d="M240.6,582.44 L232.6,591.12" fill="none" stroke="#222" stroke-width="1.15" />
<path d="M211.9,592.02 C213.23,591.99 217.25,592.02 219.9,591.82 C222.55,591.62 225.32,591.32 227.8,590.82 C230.28,590.32 232.3,589.59 234.8,588.82 C237.3,588.05 240.15,587.02 242.8,586.22 C245.45,585.42 248.22,584.55 250.7,584.02 C253.18,583.49 256.53,583.19 257.7,583.02" fill="none" stroke="#222" stroke-width="0.95" />
<path d="M211.9,594.32 C213.23,594.29 217.25,594.34 219.9,594.12 C222.55,593.9 225.57,593.49 227.8,593.02 C230.03,592.55 232.38,591.6 233.3,591.32" fill="none" stroke="#222" stroke-width="0.95" />
<path d="M240.3,593.52 C241.05,592.84 243.07,590.57 244.8,589.42 C246.53,588.27 248.55,587.25 250.7,586.62 C252.85,585.99 256.53,585.79 257.7,585.62" fill="none" stroke="#222" stroke-width="0.9" />
<path d="M232.6,591.12 L240.6,593.62" fill="none" stroke="#111" stroke-width="1.9" />
<path d="M240.6,593.62 L232.6,602.3" fill="none" stroke="#222" stroke-width="1.15" />
<path d="M211.9,603.2 C213.23,603.17 217.25,603.2 219.9,603 C222.55,602.8 225.32,602.5 227.8,602 C230.28,601.5 232.3,600.77 234.8,600 C237.3,599.23 240.15,598.2 242.8,597.4 C245.45,596.6 248.22,595.73 250.7,595.2 C253.18,594.67 256.53,594.37 257.7,594.2" fill="none" stroke="#222" stroke-width="0.95" />
<path d="M211.9,605.5 C213.23,605.47 217.25,605.52 219.9,605.3 C222.55,605.08 225.57,604.67 227.8,604.2 C230.03,603.73 232.38,602.78 233.3,602.5" fill="none" stroke="#222" stroke-width="0.95" />
<path d="M240.3,604.7 C241.05,604.02 243.07,601.75 244.8,600.6 C246.53,599.45 248.55,598.43 250.7,597.8 C252.85,597.17 256.53,596.97 257.7,596.8" fill="none" stroke="#222" stroke-width="0.9" />
<path d="M232.6,602.3 L240.6,604.8" fill="none" stroke="#111" stroke-width="1.9" />
<path d="M240.6,604.8 L232.6,613.48" fill="none" stroke="#222" stroke-width="1.15" />
<path d="M211.9,614.38 C213.23,614.35 217.25,614.38 219.9,614.18 C222.55,613.98 225.32,613.68 227.8,613.18 C230.28,612.68 232.3,611.95 234.8,611.18 C237.3,610.41 240.15,609.38 242.8,608.58 C245.45,607.78 248.22,606.91 250.7,606.38 C253.18,605.85 256.53,605.55 257.7,605.38" fill="none" stroke="#222" stroke-width="0.95" />
<path d="M211.9,616.68 C213.23,616.65 217.25,616.7 219.9,616.48 C222.55,616.26 225.57,615.85 227.8,615.38 C230.03,614.91 232.38,613.96 233.3,613.68" fill="none" stroke="#222" stroke-width="0.95" />
<path d="M240.3,615.88 C241.05,615.2 243.07,612.93 244.8,611.78 C246.53,610.63 248.55,609.61 250.7,608.98 C252.85,608.35 256.53,608.15 257.7,607.98" fill="none" stroke="#222" stroke-width="0.9" />
<path d="M232.6,613.48 L240.6,615.98" fill="none" stroke="#111" stroke-width="1.9" />
<path d="M240.6,615.98 L232.6,624.66" fill="none" stroke="#222" stroke-width="1.15" />
<path d="M211.9,625.56 C213.23,625.53 217.25,625.56 219.9,625.36 C222.55,625.16 225.32,624.86 227.8,624.36 C230.28,623.86 232.3,623.13 234.8,622.36 C237.3,621.59 240.15,620.56 242.8,619.76 C245.45,618.96 248.22,618.09 250.7,617.56 C253.18,617.03 256.53,616.73 257.7,616.56" fill="none" stroke="#222" stroke-width="0.95" />
<path d="M211.9,627.86 C213.23,627.83 217.25,627.88 219.9,627.66 C222.55,627.44 225.57,627.03 227.8,626.56 C230.03,626.09 232.38,625.14 233.3,624.86" fill="none" stroke="#222" stroke-width="0.95" />
<path d="M240.3,627.06 C241.05,626.38 243.07,624.11 244.8,622.96 C246.53,621.81 248.55,620.79 250.7,620.16 C252.85,619.53 256.53,619.33 257.7,619.16" fill="none" stroke="#222" stroke-width="0.9" />
<path d="M232.6,624.66 L240.6,627.16" fill="none" stroke="#111" stroke-width="1.9" />
<path d="M240.6,627.16 L232.6,635.84" fill="none" stroke="#222" stroke-width="1.15" />
<path d="M211.9,636.74 C213.23,636.71 217.25,636.74 219.9,636.54 C222.55,636.34 225.32,636.04 227.8,635.54 C230.28,635.04 232.3,634.31 234.8,633.54 C237.3,632.77 240.15,631.74 242.8,630.94 C245.45,630.14 248.22,629.27 250.7,628.74 C253.18,628.21 256.53,627.91 257.7,627.74" fill="none" stroke="#222" stroke-width="0.95" />
<path d="M211.9,639.04 C213.23,639.01 217.25,639.06 219.9,638.84 C222.55,638.62 225.57,638.21 227.8,637.74 C230.03,637.27 232.38,636.32 233.3,636.04" fill="none" stroke="#222" stroke-width="0.95" />
<path d="M240.3,638.24 C241.05,637.56 243.07,635.29 244.8,634.14 C246.53,632.99 248.55,631.97 250.7,631.34 C252.85,630.71 256.53,630.51 257.7,630.34" fill="none" stroke="#222" stroke-width="0.9" />
<path d="M232.6,635.84 L240.6,638.34" fill="none" stroke="#111" stroke-width="1.9" />
<path d="M240.6,638.34 L232.6,647.02" fill="none" stroke="#222" stroke-width="1.15" />
<path d="M211.9,647.92 C213.23,647.89 217.25,647.92 219.9,647.72 C222.55,647.52 225.32,647.22 227.8,646.72 C230.28,646.22 232.3,645.49 234.8,644.72 C237.3,643.95 240.15,642.92 242.8,642.12 C245.45,641.32 248.22,640.45 250.7,639.92 C253.18,639.39 256.53,639.09 257.7,638.92" fill="none" stroke="#222" stroke-width="0.95" />
<path d="M211.9,650.22 C213.23,650.19 217.25,650.24 219.9,650.02 C222.55,649.8 225.57,649.39 227.8,648.92 C230.03,648.45 232.38,647.5 233.3,647.22" fill="none" stroke="#222" stroke-width="0.95" />
<path d="M240.3,649.42 C241.05,648.74 243.07,646.47 244.8,645.32 C246.53,644.17 248.55,643.15 250.7,642.52 C252.85,641.89 256.53,641.69 257.7,641.52" fill="none" stroke="#222" stroke-width="0.9" />
<path d="M232.6,647.02 L240.6,649.52" fill="none" stroke="#111" stroke-width="1.9" />
<path d="M240.6,649.52 L232.6,658.2" fill="none" stroke="#222" stroke-width="1.15" />
<path d="M211.9,659.1 C213.23,659.07 217.25,659.1 219.9,658.9 C222.55,658.7 225.32,658.4 227.8,657.9 C230.28,657.4 232.3,656.67 234.8,655.9 C237.3,655.13 240.15,654.1 242.8,653.3 C245.45,652.5 248.22,651.63 250.7,651.1 C253.18,650.57 256.53,650.27 257.7,650.1" fill="none" stroke="#222" stroke-width="0.95" />
<path d="M211.9,661.4 C213.23,661.37 217.25,661.42 219.9,661.2 C222.55,660.98 225.57,660.57 227.8,660.1 C230.03,659.63 232.38,658.68 233.3,658.4" fill="none" stroke="#222" stroke-width="0.95" />
<path d="M240.3,660.6 C241.05,659.92 243.07,657.65 244.8,656.5 C246.53,655.35 248.55,654.33 250.7,653.7 C252.85,653.07 256.53,652.87 257.7,652.7" fill="none" stroke="#222" stroke-width="0.9" />
<path d="M232.6,658.2 L240.6,660.7" fill="none" stroke="#111" stroke-width="1.9" />
<path d="M240.6,660.7 L232.6,669.38" fill="none" stroke="#222" stroke-width="1.15" />
<path d="M211.9,670.28 C213.23,670.25 217.25,670.28 219.9,670.08 C222.55,669.88 225.32,669.58 227.8,669.08 C230.28,668.58 232.3,667.85 234.8,667.08 C237.3,666.31 240.15,665.28 242.8,664.48 C245.45,663.68 248.22,662.81 250.7,662.28 C253.18,661.75 256.53,661.45 257.7,661.28" fill="none" stroke="#222" stroke-width="0.95" />
<path d="M211.9,672.58 C213.23,672.55 217.25,672.6 219.9,672.38 C222.55,672.16 225.57,671.75 227.8,671.28 C230.03,670.81 232.38,669.86 233.3,669.58" fill="none" stroke="#222" stroke-width="0.95" />
<path d="M240.3,671.78 C241.05,671.1 243.07,668.83 244.8,667.68 C246.53,666.53 248.55,665.51 250.7,664.88 C252.85,664.25 256.53,664.05 257.7,663.88" fill="none" stroke="#222" stroke-width="0.9" />
<path d="M232.6,669.38 L240.6,671.88" fill="none" stroke="#111" stroke-width="1.9" />
<path d="M240.6,671.88 L232.6,680.56" fill="none" stroke="#222" stroke-width="1.15" />
</g>
<path d="M223.1,542.9 L246.5,542.9 C250.08,542.9 252.9,546.24 252.9,550.5 C255,565.66 256.7,581.59 256.7,599.8 C256.7,618.01 255,633.94 252.9,649.1 C252.9,653.36 250.08,656.7 246.5,656.7 L223.1,656.7 C219.52,656.7 216.7,653.36 216.7,649.1 C214.6,633.94 212.9,618.01 212.9,599.8 C212.9,581.59 214.6,565.66 216.7,550.5 C216.7,546.24 219.52,542.9 223.1,542.9Z" fill="none" stroke="#222" stroke-width="1.6" />
</g>
<g transform="translate(871.8,0) scale(-1,1)">
<clipPath id="tc226"><path d="M424.2,542.9 L447.6,542.9 C451.18,542.9 454,546.24 454,550.5 C456.1,565.66 457.8,581.59 457.8,599.8 C457.8,618.01 456.1,633.94 454,649.1 C454,653.36 451.18,656.7 447.6,656.7 L424.2,656.7 C420.62,656.7 417.8,653.36 417.8,649.1 C415.7,633.94 414,618.01 414,599.8 C414,581.59 415.7,565.66 417.8,550.5 C417.8,546.24 420.62,542.9 424.2,542.9Z"/></clipPath>
<g clip-path="url(#tc226)">
<path d="M413,536.12 C414.33,536.09 418.35,536.12 421,535.92 C423.65,535.72 426.42,535.42 428.9,534.92 C431.38,534.42 433.4,533.69 435.9,532.92 C438.4,532.15 441.25,531.12 443.9,530.32 C446.55,529.52 449.32,528.65 451.8,528.12 C454.28,527.59 457.63,527.29 458.8,527.12" fill="none" stroke="#222" stroke-width="0.95" />
<path d="M413,538.42 C414.33,538.39 418.35,538.44 421,538.22 C423.65,538 426.67,537.59 428.9,537.12 C431.13,536.65 433.48,535.7 434.4,535.42" fill="none" stroke="#222" stroke-width="0.95" />
<path d="M441.4,537.62 C442.15,536.94 444.17,534.67 445.9,533.52 C447.63,532.37 449.65,531.35 451.8,530.72 C453.95,530.09 457.63,529.89 458.8,529.72" fill="none" stroke="#222" stroke-width="0.9" />
<path d="M433.7,535.22 L441.7,537.72" fill="none" stroke="#111" stroke-width="1.9" />
<path d="M441.7,537.72 L433.7,546.4" fill="none" stroke="#222" stroke-width="1.15" />
<path d="M413,547.3 C414.33,547.27 418.35,547.3 421,547.1 C423.65,546.9 426.42,546.6 428.9,546.1 C431.38,545.6 433.4,544.87 435.9,544.1 C438.4,543.33 441.25,542.3 443.9,541.5 C446.55,540.7 449.32,539.83 451.8,539.3 C454.28,538.77 457.63,538.47 458.8,538.3" fill="none" stroke="#222" stroke-width="0.95" />
<path d="M413,549.6 C414.33,549.57 418.35,549.62 421,549.4 C423.65,549.18 426.67,548.77 428.9,548.3 C431.13,547.83 433.48,546.88 434.4,546.6" fill="none" stroke="#222" stroke-width="0.95" />
<path d="M441.4,548.8 C442.15,548.12 444.17,545.85 445.9,544.7 C447.63,543.55 449.65,542.53 451.8,541.9 C453.95,541.27 457.63,541.07 458.8,540.9" fill="none" stroke="#222" stroke-width="0.9" />
<path d="M433.7,546.4 L441.7,548.9" fill="none" stroke="#111" stroke-width="1.9" />
<path d="M441.7,548.9 L433.7,557.58" fill="none" stroke="#222" stroke-width="1.15" />
<path d="M413,558.48 C414.33,558.45 418.35,558.48 421,558.28 C423.65,558.08 426.42,557.78 428.9,557.28 C431.38,556.78 433.4,556.05 435.9,555.28 C438.4,554.51 441.25,553.48 443.9,552.68 C446.55,551.88 449.32,551.01 451.8,550.48 C454.28,549.95 457.63,549.65 458.8,549.48" fill="none" stroke="#222" stroke-width="0.95" />
<path d="M413,560.78 C414.33,560.75 418.35,560.8 421,560.58 C423.65,560.36 426.67,559.95 428.9,559.48 C431.13,559.01 433.48,558.06 434.4,557.78" fill="none" stroke="#222" stroke-width="0.95" />
<path d="M441.4,559.98 C442.15,559.3 444.17,557.03 445.9,555.88 C447.63,554.73 449.65,553.71 451.8,553.08 C453.95,552.45 457.63,552.25 458.8,552.08" fill="none" stroke="#222" stroke-width="0.9" />
<path d="M433.7,557.58 L441.7,560.08" fill="none" stroke="#111" stroke-width="1.9" />
<path d="M441.7,560.08 L433.7,568.76" fill="none" stroke="#222" stroke-width="1.15" />
<path d="M413,569.66 C414.33,569.63 418.35,569.66 421,569.46 C423.65,569.26 426.42,568.96 428.9,568.46 C431.38,567.96 433.4,567.23 435.9,566.46 C438.4,565.69 441.25,564.66 443.9,563.86 C446.55,563.06 449.32,562.19 451.8,561.66 C454.28,561.13 457.63,560.83 458.8,560.66" fill="none" stroke="#222" stroke-width="0.95" />
<path d="M413,571.96 C414.33,571.93 418.35,571.98 421,571.76 C423.65,571.54 426.67,571.13 428.9,570.66 C431.13,570.19 433.48,569.24 434.4,568.96" fill="none" stroke="#222" stroke-width="0.95" />
<path d="M441.4,571.16 C442.15,570.48 444.17,568.21 445.9,567.06 C447.63,565.91 449.65,564.89 451.8,564.26 C453.95,563.63 457.63,563.43 458.8,563.26" fill="none" stroke="#222" stroke-width="0.9" />
<path d="M433.7,568.76 L441.7,571.26" fill="none" stroke="#111" stroke-width="1.9" />
<path d="M441.7,571.26 L433.7,579.94" fill="none" stroke="#222" stroke-width="1.15" />
<path d="M413,580.84 C414.33,580.81 418.35,580.84 421,580.64 C423.65,580.44 426.42,580.14 428.9,579.64 C431.38,579.14 433.4,578.41 435.9,577.64 C438.4,576.87 441.25,575.84 443.9,575.04 C446.55,574.24 449.32,573.37 451.8,572.84 C454.28,572.31 457.63,572.01 458.8,571.84" fill="none" stroke="#222" stroke-width="0.95" />
<path d="M413,583.14 C414.33,583.11 418.35,583.16 421,582.94 C423.65,582.72 426.67,582.31 428.9,581.84 C431.13,581.37 433.48,580.42 434.4,580.14" fill="none" stroke="#222" stroke-width="0.95" />
<path d="M441.4,582.34 C442.15,581.66 444.17,579.39 445.9,578.24 C447.63,577.09 449.65,576.07 451.8,575.44 C453.95,574.81 457.63,574.61 458.8,574.44" fill="none" stroke="#222" stroke-width="0.9" />
<path d="M433.7,579.94 L441.7,582.44" fill="none" stroke="#111" stroke-width="1.9" />
<path d="M441.7,582.44 L433.7,591.12" fill="none" stroke="#222" stroke-width="1.15" />
<path d="M413,592.02 C414.33,591.99 418.35,592.02 421,591.82 C423.65,591.62 426.42,591.32 428.9,590.82 C431.38,590.32 433.4,589.59 435.9,588.82 C438.4,588.05 441.25,587.02 443.9,586.22 C446.55,585.42 449.32,584.55 451.8,584.02 C454.28,583.49 457.63,583.19 458.8,583.02" fill="none" stroke="#222" stroke-width="0.95" />
<path d="M413,594.32 C414.33,594.29 418.35,594.34 421,594.12 C423.65,593.9 426.67,593.49 428.9,593.02 C431.13,592.55 433.48,591.6 434.4,591.32" fill="none" stroke="#222" stroke-width="0.95" />
<path d="M441.4,593.52 C442.15,592.84 444.17,590.57 445.9,589.42 C447.63,588.27 449.65,587.25 451.8,586.62 C453.95,585.99 457.63,585.79 458.8,585.62" fill="none" stroke="#222" stroke-width="0.9" />
<path d="M433.7,591.12 L441.7,593.62" fill="none" stroke="#111" stroke-width="1.9" />
<path d="M441.7,593.62 L433.7,602.3" fill="none" stroke="#222" stroke-width="1.15" />
<path d="M413,603.2 C414.33,603.17 418.35,603.2 421,603 C423.65,602.8 426.42,602.5 428.9,602 C431.38,601.5 433.4,600.77 435.9,600 C438.4,599.23 441.25,598.2 443.9,597.4 C446.55,596.6 449.32,595.73 451.8,595.2 C454.28,594.67 457.63,594.37 458.8,594.2" fill="none" stroke="#222" stroke-width="0.95" />
<path d="M413,605.5 C414.33,605.47 418.35,605.52 421,605.3 C423.65,605.08 426.67,604.67 428.9,604.2 C431.13,603.73 433.48,602.78 434.4,602.5" fill="none" stroke="#222" stroke-width="0.95" />
<path d="M441.4,604.7 C442.15,604.02 444.17,601.75 445.9,600.6 C447.63,599.45 449.65,598.43 451.8,597.8 C453.95,597.17 457.63,596.97 458.8,596.8" fill="none" stroke="#222" stroke-width="0.9" />
<path d="M433.7,602.3 L441.7,604.8" fill="none" stroke="#111" stroke-width="1.9" />
<path d="M441.7,604.8 L433.7,613.48" fill="none" stroke="#222" stroke-width="1.15" />
<path d="M413,614.38 C414.33,614.35 418.35,614.38 421,614.18 C423.65,613.98 426.42,613.68 428.9,613.18 C431.38,612.68 433.4,611.95 435.9,611.18 C438.4,610.41 441.25,609.38 443.9,608.58 C446.55,607.78 449.32,606.91 451.8,606.38 C454.28,605.85 457.63,605.55 458.8,605.38" fill="none" stroke="#222" stroke-width="0.95" />
<path d="M413,616.68 C414.33,616.65 418.35,616.7 421,616.48 C423.65,616.26 426.67,615.85 428.9,615.38 C431.13,614.91 433.48,613.96 434.4,613.68" fill="none" stroke="#222" stroke-width="0.95" />
<path d="M441.4,615.88 C442.15,615.2 444.17,612.93 445.9,611.78 C447.63,610.63 449.65,609.61 451.8,608.98 C453.95,608.35 457.63,608.15 458.8,607.98" fill="none" stroke="#222" stroke-width="0.9" />
<path d="M433.7,613.48 L441.7,615.98" fill="none" stroke="#111" stroke-width="1.9" />
<path d="M441.7,615.98 L433.7,624.66" fill="none" stroke="#222" stroke-width="1.15" />
<path d="M413,625.56 C414.33,625.53 418.35,625.56 421,625.36 C423.65,625.16 426.42,624.86 428.9,624.36 C431.38,623.86 433.4,623.13 435.9,622.36 C438.4,621.59 441.25,620.56 443.9,619.76 C446.55,618.96 449.32,618.09 451.8,617.56 C454.28,617.03 457.63,616.73 458.8,616.56" fill="none" stroke="#222" stroke-width="0.95" />
<path d="M413,627.86 C414.33,627.83 418.35,627.88 421,627.66 C423.65,627.44 426.67,627.03 428.9,626.56 C431.13,626.09 433.48,625.14 434.4,624.86" fill="none" stroke="#222" stroke-width="0.95" />
<path d="M441.4,627.06 C442.15,626.38 444.17,624.11 445.9,622.96 C447.63,621.81 449.65,620.79 451.8,620.16 C453.95,619.53 457.63,619.33 458.8,619.16" fill="none" stroke="#222" stroke-width="0.9" />
<path d="M433.7,624.66 L441.7,627.16" fill="none" stroke="#111" stroke-width="1.9" />
<path d="M441.7,627.16 L433.7,635.84" fill="none" stroke="#222" stroke-width="1.15" />
<path d="M413,636.74 C414.33,636.71 418.35,636.74 421,636.54 C423.65,636.34 426.42,636.04 428.9,635.54 C431.38,635.04 433.4,634.31 435.9,633.54 C438.4,632.77 441.25,631.74 443.9,630.94 C446.55,630.14 449.32,629.27 451.8,628.74 C454.28,628.21 457.63,627.91 458.8,627.74" fill="none" stroke="#222" stroke-width="0.95" />
<path d="M413,639.04 C414.33,639.01 418.35,639.06 421,638.84 C423.65,638.62 426.67,638.21 428.9,637.74 C431.13,637.27 433.48,636.32 434.4,636.04" fill="none" stroke="#222" stroke-width="0.95" />
<path d="M441.4,638.24 C442.15,637.56 444.17,635.29 445.9,634.14 C447.63,632.99 449.65,631.97 451.8,631.34 C453.95,630.71 457.63,630.51 458.8,630.34" fill="none" stroke="#222" stroke-width="0.9" />
<path d="M433.7,635.84 L441.7,638.34" fill="none" stroke="#111" stroke-width="1.9" />
<path d="M441.7,638.34 L433.7,647.02" fill="none" stroke="#222" stroke-width="1.15" />
<path d="M413,647.92 C414.33,647.89 418.35,647.92 421,647.72 C423.65,647.52 426.42,647.22 428.9,646.72 C431.38,646.22 433.4,645.49 435.9,644.72 C438.4,643.95 441.25,642.92 443.9,642.12 C446.55,641.32 449.32,640.45 451.8,639.92 C454.28,639.39 457.63,639.09 458.8,638.92" fill="none" stroke="#222" stroke-width="0.95" />
<path d="M413,650.22 C414.33,650.19 418.35,650.24 421,650.02 C423.65,649.8 426.67,649.39 428.9,648.92 C431.13,648.45 433.48,647.5 434.4,647.22" fill="none" stroke="#222" stroke-width="0.95" />
<path d="M441.4,649.42 C442.15,648.74 444.17,646.47 445.9,645.32 C447.63,644.17 449.65,643.15 451.8,642.52 C453.95,641.89 457.63,641.69 458.8,641.52" fill="none" stroke="#222" stroke-width="0.9" />
<path d="M433.7,647.02 L441.7,649.52" fill="none" stroke="#111" stroke-width="1.9" />
<path d="M441.7,649.52 L433.7,658.2" fill="none" stroke="#222" stroke-width="1.15" />
<path d="M413,659.1 C414.33,659.07 418.35,659.1 421,658.9 C423.65,658.7 426.42,658.4 428.9,657.9 C431.38,657.4 433.4,656.67 435.9,655.9 C438.4,655.13 441.25,654.1 443.9,653.3 C446.55,652.5 449.32,651.63 451.8,651.1 C454.28,650.57 457.63,650.27 458.8,650.1" fill="none" stroke="#222" stroke-width="0.95" />
<path d="M413,661.4 C414.33,661.37 418.35,661.42 421,661.2 C423.65,660.98 426.67,660.57 428.9,660.1 C431.13,659.63 433.48,658.68 434.4,658.4" fill="none" stroke="#222" stroke-width="0.95" />
<path d="M441.4,660.6 C442.15,659.92 444.17,657.65 445.9,656.5 C447.63,655.35 449.65,654.33 451.8,653.7 C453.95,653.07 457.63,652.87 458.8,652.7" fill="none" stroke="#222" stroke-width="0.9" />
<path d="M433.7,658.2 L441.7,660.7" fill="none" stroke="#111" stroke-width="1.9" />
<path d="M441.7,660.7 L433.7,669.38" fill="none" stroke="#222" stroke-width="1.15" />
<path d="M413,670.28 C414.33,670.25 418.35,670.28 421,670.08 C423.65,669.88 426.42,669.58 428.9,669.08 C431.38,668.58 433.4,667.85 435.9,667.08 C438.4,666.31 441.25,665.28 443.9,664.48 C446.55,663.68 449.32,662.81 451.8,662.28 C454.28,661.75 457.63,661.45 458.8,661.28" fill="none" stroke="#222" stroke-width="0.95" />
<path d="M413,672.58 C414.33,672.55 418.35,672.6 421,672.38 C423.65,672.16 426.67,671.75 428.9,671.28 C431.13,670.81 433.48,669.86 434.4,669.58" fill="none" stroke="#222" stroke-width="0.95" />
<path d="M441.4,671.78 C442.15,671.1 444.17,668.83 445.9,667.68 C447.63,666.53 449.65,665.51 451.8,664.88 C453.95,664.25 457.63,664.05 458.8,663.88" fill="none" stroke="#222" stroke-width="0.9" />
<path d="M433.7,669.38 L441.7,671.88" fill="none" stroke="#111" stroke-width="1.9" />
<path d="M441.7,671.88 L433.7,680.56" fill="none" stroke="#222" stroke-width="1.15" />
</g>
<path d="M424.2,542.9 L447.6,542.9 C451.18,542.9 454,546.24 454,550.5 C456.1,565.66 457.8,581.59 457.8,599.8 C457.8,618.01 456.1,633.94 454,649.1 C454,653.36 451.18,656.7 447.6,656.7 L424.2,656.7 C420.62,656.7 417.8,653.36 417.8,649.1 C415.7,633.94 414,618.01 414,599.8 C414,581.59 415.7,565.66 417.8,550.5 C417.8,546.24 420.62,542.9 424.2,542.9Z" fill="none" stroke="#222" stroke-width="1.6" />
</g>
<line x1="284.5" y1="165.6" x2="386.1" y2="165.6" stroke="#000" stroke-width="4.8" />
<g>
<rect x="256.5" y="164.2" width="26.5" height="2.6" rx="0" fill="#999" stroke="#444" stroke-width="0.9"/>
<rect x="282.6" y="155.4" width="2.6" height="20.8" rx="0" fill="#777" stroke="#444" stroke-width="0.8"/>
<rect x="260" y="147.6" width="9.8" height="12" rx="0" fill="none" stroke="#222" stroke-width="1.7"/>
<rect x="261.2" y="145.6" width="8" height="2.6" rx="0" fill="#111" stroke="#111" stroke-width="0.8"/>
<line x1="260.6" y1="151" x2="269.4" y2="151" stroke="#222" stroke-width="1" />
<rect x="269.8" y="150.8" width="4.6" height="7.8" rx="0" fill="none" stroke="#222" stroke-width="1.3"/>
<rect x="271.3" y="158.6" width="2.6" height="5.8" rx="0" fill="none" stroke="#222" stroke-width="0.9"/>
</g>
<g transform="translate(670.6,0) scale(-1,1)">
<rect x="256.5" y="164.2" width="26.5" height="2.6" rx="0" fill="#999" stroke="#444" stroke-width="0.9"/>
<rect x="282.6" y="155.4" width="2.6" height="20.8" rx="0" fill="#777" stroke="#444" stroke-width="0.8"/>
<rect x="260" y="147.6" width="9.8" height="12" rx="0" fill="none" stroke="#222" stroke-width="1.7"/>
<rect x="261.2" y="145.6" width="8" height="2.6" rx="0" fill="#111" stroke="#111" stroke-width="0.8"/>
<line x1="260.6" y1="151" x2="269.4" y2="151" stroke="#222" stroke-width="1" />
<rect x="269.8" y="150.8" width="4.6" height="7.8" rx="0" fill="none" stroke="#222" stroke-width="1.3"/>
<rect x="271.3" y="158.6" width="2.6" height="5.8" rx="0" fill="none" stroke="#222" stroke-width="0.9"/>
</g>
<line x1="284.5" y1="599.4" x2="386.1" y2="599.4" stroke="#000" stroke-width="4.8" />
<g>
<rect x="256.5" y="598" width="26.5" height="2.6" rx="0" fill="#999" stroke="#444" stroke-width="0.9"/>
<rect x="282.6" y="589.2" width="2.6" height="20.8" rx="0" fill="#777" stroke="#444" stroke-width="0.8"/>
<rect x="260" y="581.4" width="9.8" height="12" rx="0" fill="none" stroke="#222" stroke-width="1.7"/>
<rect x="261.2" y="579.4" width="8" height="2.6" rx="0" fill="#111" stroke="#111" stroke-width="0.8"/>
<line x1="260.6" y1="584.8" x2="269.4" y2="584.8" stroke="#222" stroke-width="1" />
<rect x="269.8" y="584.6" width="4.6" height="7.8" rx="0" fill="none" stroke="#222" stroke-width="1.3"/>
<rect x="271.3" y="592.4" width="2.6" height="5.8" rx="0" fill="none" stroke="#222" stroke-width="0.9"/>
</g>
<g transform="translate(670.6,0) scale(-1,1)">
<rect x="256.5" y="598" width="26.5" height="2.6" rx="0" fill="#999" stroke="#444" stroke-width="0.9"/>
<rect x="282.6" y="589.2" width="2.6" height="20.8" rx="0" fill="#777" stroke="#444" stroke-width="0.8"/>
<rect x="260" y="581.4" width="9.8" height="12" rx="0" fill="none" stroke="#222" stroke-width="1.7"/>
<rect x="261.2" y="579.4" width="8" height="2.6" rx="0" fill="#111" stroke="#111" stroke-width="0.8"/>
<line x1="260.6" y1="584.8" x2="269.4" y2="584.8" stroke="#222" stroke-width="1" />
<rect x="269.8" y="584.6" width="4.6" height="7.8" rx="0" fill="none" stroke="#222" stroke-width="1.3"/>
<rect x="271.3" y="592.4" width="2.6" height="5.8" rx="0" fill="none" stroke="#222" stroke-width="0.9"/>
</g>
<line x1="335.6" y1="165.6" x2="335.6" y2="358" stroke="#000" stroke-width="4.8" />
<line x1="335.8" y1="495" x2="335.8" y2="599.4" stroke="#000" stroke-width="4.8" />
<text transform="translate(242 104.2) scale(1 1.08)" font-size="12.9" text-anchor="start" fill="#222" stroke="#222" stroke-width="0.4" >T1</text>
<text transform="translate(427.2 104.2) scale(1 1.08)" font-size="12.9" text-anchor="start" fill="#222" stroke="#222" stroke-width="0.4" >T2</text>
<text transform="translate(228.4 670.3) scale(1 1.08)" font-size="12.9" text-anchor="start" fill="#222" stroke="#222" stroke-width="0.4" >T3</text>
<text transform="translate(428.6 670.3) scale(1 1.08)" font-size="12.9" text-anchor="start" fill="#222" stroke="#222" stroke-width="0.4" >T4</text>
<text transform="translate(261.3 141.5) scale(1 1.08)" font-size="12.9" text-anchor="start" fill="#222" stroke="#222" stroke-width="0.4" >TPMS1</text>
<text transform="translate(368.2 141.7) scale(1 1.08)" font-size="12.9" text-anchor="start" fill="#222" stroke="#222" stroke-width="0.4" >TPMS2</text>
<text transform="translate(260.8 576.7) scale(1 1.08)" font-size="12.9" text-anchor="start" fill="#222" stroke="#222" stroke-width="0.4" >TPMS3</text>
<text transform="translate(368.6 576.5) scale(1 1.08)" font-size="12.9" text-anchor="start" fill="#222" stroke="#222" stroke-width="0.4" >TPMS4</text>
<rect x="225" y="235.6" width="67.8" height="15.2" rx="0" fill="none" stroke="#222" stroke-width="1.6"/>
<text transform="translate(258.9 248.3) scale(1 1.08)" font-size="13.2" text-anchor="middle" fill="#222" stroke="#222" stroke-width="0.4" >Odometer</text>
<line x1="297.4" y1="243.2" x2="329.2" y2="243.2" stroke="#222" stroke-width="1.3" />
<polygon points="333.2,243.2 325.2,245.9 326.9,243.2 325.2,240.5" fill="#222"/>
<polygon points="293.4,243.2 301.4,240.5 299.7,243.2 301.4,245.9" fill="#222"/>
<text transform="translate(265.4 214.1) scale(1 1.08)" font-size="12.9" text-anchor="start" fill="#222" stroke="#222" stroke-width="0.4" >106</text>
<path d="M276.2,216.6 C279.4,219.6 272.6,222.4 275.2,225.4 C278,228.4 273.4,231 276.4,235.4" fill="none" stroke="#222" stroke-width="1.15" />
<rect x="217.3" y="258" width="82.8" height="78.8" rx="0" fill="none" stroke="#222" stroke-width="1.6"/>
<text transform="translate(258.8 274.8) scale(1 1.08)" font-size="13.2" text-anchor="middle" fill="#222" stroke="#222" stroke-width="0.4" >Automotive</text>
<text transform="translate(258.5 290.4) scale(1 1.08)" font-size="13.2" text-anchor="middle" fill="#222" stroke="#222" stroke-width="0.4" >computer</text>
<rect x="225" y="297" width="67.8" height="15.8" rx="0" fill="none" stroke="#222" stroke-width="1.6"/>
<text transform="translate(258.9 310) scale(1 1.08)" font-size="13.2" text-anchor="middle" fill="#222" stroke="#222" stroke-width="0.4" >Processor</text>
<rect x="225" y="316.5" width="67.8" height="16" rx="0" fill="none" stroke="#222" stroke-width="1.6"/>
<text transform="translate(258.9 328.3) scale(1 1.08)" font-size="13.2" text-anchor="middle" fill="#222" stroke="#222" stroke-width="0.4" >Memory</text>
<line x1="304.6" y1="284.2" x2="349.3" y2="284.2" stroke="#222" stroke-width="1.3" />
<polygon points="353.3,284.2 345.3,286.9 347,284.2 345.3,281.5" fill="#222"/>
<polygon points="300.6,284.2 308.6,281.5 306.9,284.2 308.6,286.9" fill="#222"/>
<path d="M227.1,341 L227.1,457.1 L237,457.1" fill="none" stroke="#222" stroke-width="1.3" />
<polygon points="227.1,337 229.8,345 227.1,343.3 224.4,345" fill="#222"/>
<polygon points="241.9,457.1 233.9,459.8 235.6,457.1 233.9,454.4" fill="#222"/>
<rect x="353.9" y="261.4" width="99" height="44.8" rx="5.5" fill="none" stroke="#222" stroke-width="2.3"/>
<path d="M396,261 L397.6,258.2 L411,258.2 L412.6,261" fill="none" stroke="#222" stroke-width="1.3" />
<text transform="translate(405 279.8) scale(1 1.08)" font-size="13.2" text-anchor="middle" fill="#222" stroke="#222" stroke-width="0.4" >Infotainment</text>
<rect x="378" y="283.5" width="9.4" height="7.6" rx="1" fill="#d4d4d4" stroke="#2a2a2a" stroke-width="1.35"/>
<rect x="380" y="285.1" width="5.2" height="4.1" rx="0" fill="#eee" stroke="#666" stroke-width="0.5"/>
<rect x="392.1" y="283.5" width="9.4" height="7.6" rx="1" fill="#bdbdbd" stroke="#2a2a2a" stroke-width="1.35"/>
<rect x="394.1" y="285.1" width="5.2" height="4.1" rx="0" fill="#eee" stroke="#666" stroke-width="0.5"/>
<rect x="406.4" y="283.5" width="9.4" height="7.6" rx="1" fill="#d4d4d4" stroke="#2a2a2a" stroke-width="1.35"/>
<rect x="409.4" y="284.5" width="3.4" height="4" rx="0" fill="#222" stroke="#222" stroke-width="0.5"/>
<rect x="420.8" y="283.5" width="9.4" height="7.6" rx="1" fill="#bdbdbd" stroke="#2a2a2a" stroke-width="1.35"/>
<rect x="422.8" y="285.1" width="5.2" height="4.1" rx="0" fill="#eee" stroke="#666" stroke-width="0.5"/>
<rect x="378" y="293.4" width="9.4" height="7.6" rx="1" fill="#bdbdbd" stroke="#2a2a2a" stroke-width="1.35"/>
<circle cx="382.6" cy="297.1" r="2.3" fill="none" stroke="#222" stroke-width="1.1" />
<rect x="392.1" y="293.4" width="9.4" height="7.6" rx="1" fill="#d4d4d4" stroke="#2a2a2a" stroke-width="1.35"/>
<rect x="394.1" y="295" width="5.2" height="4.1" rx="0" fill="#eee" stroke="#666" stroke-width="0.5"/>
<rect x="406.4" y="293.4" width="9.4" height="7.6" rx="1" fill="#bdbdbd" stroke="#2a2a2a" stroke-width="1.35"/>
<rect x="408" y="294.8" width="6" height="4.5" rx="0" fill="#fff" stroke="#222" stroke-width="0.7"/>
<circle cx="411" cy="297.1" r="0.8" fill="#222" stroke="#222" stroke-width="0" />
<rect x="420.8" y="293.4" width="9.4" height="7.6" rx="1" fill="#d4d4d4" stroke="#2a2a2a" stroke-width="1.35"/>
<text transform="translate(425.4 299.8) scale(1 1.08)" font-size="5.5" text-anchor="middle" fill="#222" stroke="#222" stroke-width="0.4" >()</text>
<line x1="404.2" y1="311.6" x2="404.2" y2="354" stroke="#222" stroke-width="1.3" />
<polygon points="404.2,358 401.5,350 404.2,351.7 406.9,350" fill="#222"/>
<polygon points="404.2,307.6 406.9,315.6 404.2,313.9 401.5,315.6" fill="#222"/>
<rect x="242.2" y="358.6" width="188.4" height="166.6" rx="0" fill="none" stroke="#222" stroke-width="1.6"/>
<text transform="translate(336 374.5) scale(1 1.08)" font-size="13.2" text-anchor="middle" fill="#222" stroke="#222" stroke-width="0.4" >Vehicle control Unit (VCU)</text>
<rect x="248.5" y="379.2" width="44.8" height="139.4" rx="0" fill="none" stroke="#222" stroke-width="1.55"/>
<text transform="translate(272 407.5) scale(1 1.08)" font-size="13.2" text-anchor="middle" fill="#222" stroke="#222" stroke-width="0.4" >TCU</text>
<rect x="297.7" y="379.2" width="109.6" height="66.5" rx="0" fill="none" stroke="#222" stroke-width="1.55"/>
<text transform="translate(352.2 392.3) scale(1 1.08)" font-size="13.2" text-anchor="middle" fill="#222" stroke="#222" stroke-width="0.4" >VPS</text>
<rect x="303" y="396" width="97.7" height="46.6" rx="0" fill="none" stroke="#222" stroke-width="1.55"/>
<text transform="translate(351.9 412.7) scale(1 1.08)" font-size="13.2" text-anchor="middle" fill="#222" stroke="#222" stroke-width="0.4" >Sensor system</text>
<rect x="306.4" y="419.4" width="91.3" height="19.6" rx="0" fill="none" stroke="#222" stroke-width="1.55"/>
<text transform="translate(351.7 434.3) scale(1 1.08)" font-size="13.2" text-anchor="middle" fill="#222" stroke="#222" stroke-width="0.4" >Wheel sensor</text>
<rect x="251.9" y="449.2" width="38.5" height="25.6" rx="0" fill="none" stroke="#222" stroke-width="1.55"/>
<text transform="translate(271.2 467.3) scale(1 1.08)" font-size="13.2" text-anchor="middle" fill="#222" stroke="#222" stroke-width="0.4" >NAV</text>
<rect x="298.3" y="449.2" width="33" height="25.6" rx="0" fill="none" stroke="#222" stroke-width="1.55"/>
<text transform="translate(314.8 467.3) scale(1 1.08)" font-size="13.2" text-anchor="middle" fill="#222" stroke="#222" stroke-width="0.4" >BCM</text>
<rect x="335" y="449.2" width="32.5" height="25.6" rx="0" fill="none" stroke="#222" stroke-width="1.55"/>
<text transform="translate(351.3 467.3) scale(1 1.08)" font-size="13.2" text-anchor="middle" fill="#222" stroke="#222" stroke-width="0.4" >ECM</text>
<rect x="251.7" y="490" width="38.8" height="26" rx="0" fill="none" stroke="#222" stroke-width="1.6"/>
<text transform="translate(271.2 508.3) scale(1 1.08)" font-size="13.2" text-anchor="middle" fill="#222" stroke="#222" stroke-width="0.4" >BLEM</text>
<rect x="298.3" y="490.4" width="33" height="25.6" rx="0" fill="none" stroke="#222" stroke-width="1.55"/>
<text transform="translate(314.8 508.3) scale(1 1.08)" font-size="13.2" text-anchor="middle" fill="#222" stroke="#222" stroke-width="0.4" >TCM</text>
<rect x="379.6" y="490" width="32.7" height="26.4" rx="0" fill="none" stroke="#222" stroke-width="1.55"/>
<text transform="translate(395.8 508.7) scale(1 1.08)" font-size="13.2" text-anchor="middle" fill="#222" stroke="#222" stroke-width="0.4" >DAT</text>
<path d="M271.2,480.9 L408.6,480.9 Q410.6,482.7 408.6,484.5 L271.2,484.5" fill="none" stroke="#222" stroke-width="1.2" />
<line x1="271.2" y1="474.8" x2="271.2" y2="490.4" stroke="#222" stroke-width="1.2" />
<line x1="314.6" y1="474.8" x2="314.6" y2="480.9" stroke="#222" stroke-width="1.2" />
<line x1="314.6" y1="484.5" x2="314.6" y2="490.4" stroke="#222" stroke-width="1.2" />
<line x1="351.3" y1="474.8" x2="351.3" y2="480.9" stroke="#222" stroke-width="1.2" />
<line x1="374.6" y1="445.7" x2="374.6" y2="480.9" stroke="#222" stroke-width="1.2" />
<line x1="396.2" y1="484.5" x2="396.2" y2="490" stroke="#222" stroke-width="1.2" />
<circle cx="412.8" cy="482.6" r="2.2" fill="#111" stroke="#222" stroke-width="0" />
<circle cx="418.7" cy="482.6" r="2.2" fill="#111" stroke="#222" stroke-width="0" />
<circle cx="424.6" cy="482.6" r="2.2" fill="#111" stroke="#222" stroke-width="0" />
<text transform="translate(153.7 271.5) scale(1 1.08)" font-size="12.9" text-anchor="start" fill="#222" stroke="#222" stroke-width="0.4" >104</text>
<path d="M176.4,267.6 C177.5,268.13 180.73,270.3 183,270.8 C185.27,271.3 187.67,271.3 190,270.6 C192.33,269.9 194.67,267.67 197,266.6 C199.33,265.53 201.67,264.53 204,264.2 C206.33,263.87 208.78,264.3 211,264.6 C213.22,264.9 216.25,265.77 217.3,266" fill="none" stroke="#222" stroke-width="1.15" />
<text transform="translate(144.3 305.2) scale(1 1.08)" font-size="12.9" text-anchor="start" fill="#222" stroke="#222" stroke-width="0.4" >110</text>
<path d="M165.8,300.8 C167.17,301.5 171.13,303.83 174,305 C176.87,306.17 180,307.4 183,307.8 C186,308.2 189.17,307.97 192,307.4 C194.83,306.83 197.33,305.43 200,304.4 C202.67,303.37 205.33,301.67 208,301.2 C210.67,300.73 213.17,301.03 216,301.6 C218.83,302.17 223.5,304.1 225,304.6" fill="none" stroke="#222" stroke-width="1.15" />
<text transform="translate(140.8 343.7) scale(1 1.08)" font-size="12.9" text-anchor="start" fill="#222" stroke="#222" stroke-width="0.4" >112</text>
<path d="M163,339.6 C164.5,340 168.67,341.57 172,342 C175.33,342.43 179.5,342.77 183,342.2 C186.5,341.63 189.55,340.57 193,338.6 C196.45,336.63 200.37,332.6 203.7,330.4 C207.03,328.2 209.45,326.43 213,325.4 C216.55,324.37 223,324.4 225,324.2" fill="none" stroke="#222" stroke-width="1.15" />
<text transform="translate(149.2 373) scale(1 1.08)" font-size="12.9" text-anchor="start" fill="#222" stroke="#222" stroke-width="0.4" >102</text>
<path d="M169.4,369.2 C171.17,369.5 176.4,370.58 180,371 C183.6,371.42 187.17,372.2 191,371.7 C194.83,371.2 199.17,369.18 203,368 C206.83,366.82 210.83,365.3 214,364.6 C217.17,363.9 219.5,363.8 222,363.8 C224.5,363.8 226.67,364 229,364.6 C231.33,365.2 233.78,366.4 236,367.4 C238.22,368.4 241.25,370.07 242.3,370.6" fill="none" stroke="#222" stroke-width="1.15" />
<text transform="translate(149.2 396.9) scale(1 1.08)" font-size="12.9" text-anchor="start" fill="#222" stroke="#222" stroke-width="0.4" >120</text>
<path d="M169.4,393.5 C171.83,393.82 179.32,395.05 184,395.4 C188.68,395.75 193.17,396.17 197.5,395.6 C201.83,395.03 205.83,393.2 210,392 C214.17,390.8 219.17,389.1 222.5,388.4 C225.83,387.7 227.58,387.77 230,387.8 C232.42,387.83 234.83,388.1 237,388.6 C239.17,389.1 241.08,389.98 243,390.8 C244.92,391.62 247.58,393.05 248.5,393.5" fill="none" stroke="#222" stroke-width="1.15" />
<text transform="translate(148 473) scale(1 1.08)" font-size="12.9" text-anchor="start" fill="#222" stroke="#222" stroke-width="0.4" >130</text>
<path d="M170.4,468.7 C172,469.18 176.73,470.65 180,471.6 C183.27,472.55 186.83,473.87 190,474.4 C193.17,474.93 195.67,475.03 199,474.8 C202.33,474.57 206.17,473.77 210,473 C213.83,472.23 217.67,470.93 222,470.2 C226.33,469.47 231.02,468.83 236,468.6 C240.98,468.37 249.25,468.77 251.9,468.8" fill="none" stroke="#222" stroke-width="1.15" />
<text transform="translate(156.8 507) scale(1 1.08)" font-size="12.9" text-anchor="start" fill="#222" stroke="#222" stroke-width="0.4" >132</text>
<path d="M179,503.4 C180.5,503.8 184.83,505.2 188,505.8 C191.17,506.4 194.67,507.07 198,507 C201.33,506.93 204.67,506.33 208,505.4 C211.33,504.47 214.67,502.43 218,501.4 C221.33,500.37 224.33,499.37 228,499.2 C231.67,499.03 236.02,499.83 240,500.4 C243.98,500.97 249.92,502.23 251.9,502.6" fill="none" stroke="#222" stroke-width="1.15" />
<text transform="translate(129 536.9) scale(1 1.08)" font-size="12.9" text-anchor="start" fill="#222" stroke="#222" stroke-width="0.4" >100</text>
<path d="M150.6,533.2 C151.5,533.57 154.1,534.97 156,535.4 C157.9,535.83 160,536.2 162,535.8 C164,535.4 166,534.03 168,533 C170,531.97 171.87,530.37 174,529.6 C176.13,528.83 178.63,528.3 180.8,528.4 C182.97,528.5 184.87,529.43 187,530.2 C189.13,530.97 192.5,532.53 193.6,533" fill="none" stroke="#222" stroke-width="1.15" />
<text transform="translate(483.2 375) scale(1 1.08)" font-size="12.9" text-anchor="start" fill="#222" stroke="#222" stroke-width="0.4" >124</text>
<path d="M481.7,371.2 C479.92,372.07 474.83,374.87 471,376.4 C467.17,377.93 463.03,379.77 458.7,380.4 C454.37,381.03 449.5,380.53 445,380.2 C440.5,379.87 436.03,378.37 431.7,378.4 C427.37,378.43 423.07,379.3 419,380.4 C414.93,381.5 409.25,384.23 407.3,385" fill="none" stroke="#222" stroke-width="1.15" />
<text transform="translate(486.2 395.2) scale(1 1.08)" font-size="12.9" text-anchor="start" fill="#222" stroke="#222" stroke-width="0.4" >126</text>
<path d="M484.8,392 C482.83,393.07 477,396.67 473,398.4 C469,400.13 465.3,402.07 460.8,402.4 C456.3,402.73 451.2,401.23 446,400.4 C440.8,399.57 434.93,397.57 429.6,397.4 C424.27,397.23 418.82,398.37 414,399.4 C409.18,400.43 402.92,402.9 400.7,403.6" fill="none" stroke="#222" stroke-width="1.15" />
<text transform="translate(483.2 420.8) scale(1 1.08)" font-size="12.9" text-anchor="start" fill="#222" stroke="#222" stroke-width="0.4" >128</text>
<path d="M481.7,418 C479.92,419 474.83,422.27 471,424 C467.17,425.73 463.2,428 458.7,428.4 C454.2,428.8 449.2,427.23 444,426.4 C438.8,425.57 432.83,423.6 427.5,423.4 C422.17,423.2 416.97,424.17 412,425.2 C407.03,426.23 400.08,428.87 397.7,429.6" fill="none" stroke="#222" stroke-width="1.15" />
<text transform="translate(493.7 448.7) scale(1 1.08)" font-size="12.9" text-anchor="start" fill="#222" stroke="#222" stroke-width="0.4" >108</text>
<path d="M492,445.2 C489.67,444.67 482.83,442.7 478,442 C473.17,441.3 468,440.9 463,441 C458,441.1 452.83,441.7 448,442.6 C443.17,443.5 438.5,444.93 434,446.4 C429.5,447.87 423.17,450.57 421,451.4" fill="none" stroke="#222" stroke-width="1.15" />
<polygon points="415,454.2 421.43,448.72 420.85,451.86 423.43,453.74" fill="#222"/>
<text transform="translate(497.3 476.9) scale(1 1.08)" font-size="12.9" text-anchor="start" fill="#222" stroke="#222" stroke-width="0.4" >134</text>
<path d="M518.7,473.3 C519.75,473.52 522.83,474.52 525,474.6 C527.17,474.68 529.53,474.37 531.7,473.8 C533.87,473.23 535.58,471.73 538,471.2 C540.42,470.67 544.83,470.7 546.2,470.6" fill="none" stroke="#222" stroke-width="1.15" />
<text transform="translate(492 516.5) scale(1 1.08)" font-size="12.9" text-anchor="start" fill="#222" stroke="#222" stroke-width="0.4" >122</text>
<path d="M412.3,497.6 C414.25,497.6 420.05,497.2 424,497.6 C427.95,498 432,498.67 436,500 C440,501.33 444,503.83 448,505.6 C452,507.37 455.67,509.4 460,510.6 C464.33,511.8 468.92,512.5 474,512.8 C479.08,513.1 487.75,512.47 490.5,512.4" fill="none" stroke="#222" stroke-width="1.15" />
<text transform="translate(495.5 273.7) scale(1 1.08)" font-size="12.9" text-anchor="start" fill="#222" stroke="#222" stroke-width="0.4" >142</text>
<path d="M453,275.2 C454.17,275.03 457.5,274 460,274.2 C462.5,274.4 465.33,275.63 468,276.4 C470.67,277.17 473.33,278.77 476,278.8 C478.67,278.83 481.1,278.1 484,276.6 C486.9,275.1 491.83,270.93 493.4,269.8" fill="none" stroke="#222" stroke-width="1.15" />
<text transform="translate(510.8 340) scale(1 1.08)" font-size="12.9" text-anchor="start" fill="#222" stroke="#222" stroke-width="0.4" >140</text>
<path d="M532.7,336.5 C533.92,336.68 537.45,337.55 540,337.6 C542.55,337.65 545.67,337.4 548,336.8 C550.33,336.2 551.9,334.58 554,334 C556.1,333.42 559.5,333.42 560.6,333.3" fill="none" stroke="#222" stroke-width="1.15" />
<text transform="translate(523.3 109.4) scale(1 1.08)" font-size="12.9" text-anchor="start" fill="#222" stroke="#222" stroke-width="0.4" >136</text>
<path d="M534,112.6 C534.17,113.67 534.5,116.93 535,119 C535.5,121.07 535.67,123.6 537,125 C538.33,126.4 541,126.63 543,127.4 C545,128.17 547.4,128.4 549,129.6 C550.6,130.8 551.53,132.8 552.6,134.6 C553.67,136.4 554.93,139.43 555.4,140.4" fill="none" stroke="#222" stroke-width="1.15" />
<text transform="translate(496.6 581.1) scale(1 1.08)" font-size="12.9" text-anchor="start" fill="#222" stroke="#222" stroke-width="0.4" >138</text>
<path d="M518.9,576.7 C519.92,576.72 523.15,576.48 525,576.8 C526.85,577.12 528.77,577.4 530,578.6 C531.23,579.8 531.8,581.77 532.4,584 C533,586.23 532.73,589.57 533.6,592 C534.47,594.43 535.83,596.97 537.6,598.6 C539.37,600.23 543.1,601.27 544.2,601.8" fill="none" stroke="#222" stroke-width="1.15" />
<text transform="translate(337.4 519.7) scale(1 1.08)" font-size="12.9" text-anchor="start" fill="#222" stroke="#222" stroke-width="0.4" >114</text>
<path d="M327,474.8 C327.43,475.83 328.27,479.2 329.6,481 C330.93,482.8 333,484.2 335,485.6 C337,487 339.87,487.77 341.6,489.4 C343.33,491.03 344.57,492.53 345.4,495.4 C346.23,498.27 346.4,504.73 346.6,506.6" fill="none" stroke="#222" stroke-width="1.15" />
<text transform="translate(360.8 547.2) scale(1 1.08)" font-size="12.9" text-anchor="start" fill="#222" stroke="#222" stroke-width="0.4" >116</text>
<path d="M360,474.8 C360.07,476.5 359.97,481.73 360.4,485 C360.83,488.27 361.5,491.4 362.6,494.4 C363.7,497.4 365.67,500.07 367,503 C368.33,505.93 369.87,508.67 370.6,512 C371.33,515.33 371.37,519.17 371.4,523 C371.43,526.83 370.9,533 370.8,535" fill="none" stroke="#222" stroke-width="1.15" />
<text transform="translate(263 546.7) scale(1 1.08)" font-size="12.9" text-anchor="start" fill="#222" stroke="#222" stroke-width="0.4" >118</text>
<path d="M283.3,543 C284.42,542.73 288.05,542.33 290,541.4 C291.95,540.47 293.85,539.13 295,537.4 C296.15,535.67 296.57,533.1 296.9,531 C297.23,528.9 296.72,526.8 297,524.8 C297.28,522.8 297.7,520.47 298.6,519 C299.5,517.53 301.77,516.5 302.4,516" fill="none" stroke="#222" stroke-width="1.15" />
<line x1="473.4" y1="354.3" x2="552.2" y2="354.3" stroke="#222" stroke-width="1.3" />
<polygon points="556.2,354.3 548.2,357 549.9,354.3 548.2,351.6" fill="#222"/>
<polygon points="469.4,354.3 477.4,351.6 475.7,354.3 477.4,357" fill="#222"/>
<line x1="476.8" y1="490.8" x2="542" y2="490.8" stroke="#222" stroke-width="1.3" />
<polygon points="546,490.8 538,493.5 539.7,490.8 538,488.1" fill="#222"/>
<polygon points="472.8,490.8 480.8,488.1 479.1,490.8 480.8,493.5" fill="#222"/>
<line x1="563.5" y1="219.8" x2="563.5" y2="264.7" stroke="#222" stroke-width="1.3" />
<polygon points="563.5,268.7 560.8,260.7 563.5,262.4 566.2,260.7" fill="#222"/>
<polygon points="563.5,215.8 566.2,223.8 563.5,222.1 560.8,223.8" fill="#222"/>
<line x1="564" y1="399.9" x2="564" y2="446.8" stroke="#222" stroke-width="1.3" />
<polygon points="564,450.8 561.3,442.8 564,444.5 566.7,442.8" fill="#222"/>
<polygon points="564,395.9 566.7,403.9 564,402.2 561.3,403.9" fill="#222"/>
<line x1="564" y1="532.4" x2="564" y2="575.6" stroke="#222" stroke-width="1.3" />
<polygon points="564,579.6 561.3,571.6 564,573.3 566.7,571.6" fill="#222"/>
<polygon points="564,528.4 566.7,536.4 564,534.7 561.3,536.4" fill="#222"/>
<path d="M543.4,152.2 L574.9,129.9 L595.3,142.2 L595.3,193.2 L562.6,212.2 L546,203.4 Q543,201.6 543,198.4 Z" fill="none" stroke="#222" stroke-width="1.4" />
<path d="M543.4,152.2 L562.6,161.2 L595.3,142.2 M562.6,161.2 L562.6,212.2" fill="none" stroke="#222" stroke-width="1.4" />
<path d="M545,157.4 L560,164.2 L560,167.2 L545,160.4 Z" fill="#111" stroke="#111" stroke-width="0.6" />
<path d="M545.6,163.4 L560,170 L560,173.8 L545.6,167.2 Z" fill="#111" stroke="#111" stroke-width="0.6" />
<ellipse cx="551.6" cy="182.9" rx="2.1" ry="2.5" fill="none" stroke="#222" stroke-width="1.2"/>
<line x1="545.6" y1="191.4" x2="559.8" y2="198.1" stroke="#222" stroke-width="1.5" />
<line x1="545.6" y1="194.8" x2="559.8" y2="201.5" stroke="#222" stroke-width="1.5" />
<line x1="545.6" y1="198.2" x2="559.8" y2="204.9" stroke="#222" stroke-width="1.5" />
<path d="M565.4,110.8 C566.33,110.42 568.98,109.05 571,108.5 C573.02,107.95 575.33,107.52 577.5,107.5 C579.67,107.48 581.92,107.83 584,108.4 C586.08,108.97 588.08,109.8 590,110.9 C591.92,112 593.9,113.42 595.5,115 C597.1,116.58 598.92,119.5 599.6,120.4" fill="none" stroke="#222" stroke-width="1.3" />
<path d="M568.7,115.8 C569.42,115.55 571.4,114.63 573,114.3 C574.6,113.97 576.47,113.68 578.3,113.8 C580.13,113.92 582.22,114.3 584,115 C585.78,115.7 587.38,116.62 589,118 C590.62,119.38 592.92,122.42 593.7,123.3" fill="none" stroke="#222" stroke-width="1.3" />
<path d="M570,123.3 C570.5,123.12 571.88,122.45 573,122.2 C574.12,121.95 575.37,121.7 576.7,121.8 C578.03,121.9 579.53,122.2 581,122.8 C582.47,123.4 584.13,124.33 585.5,125.4 C586.87,126.47 588.58,128.57 589.2,129.2" fill="none" stroke="#222" stroke-width="1.3" />
<circle cx="565.4" cy="298.8" r="5.1" fill="#111" stroke="#222" stroke-width="0" />
<line x1="565.3" y1="302" x2="565.3" y2="318" stroke="#111" stroke-width="1.5" />
<path d="M565.3,317.4 L551.2,383.6 L566.1,392.6 L580.2,383.6 Z M565.3,317.4 L566.1,392.6 M551.2,383.6 L580.2,383.6" fill="none" stroke="#1a1a1a" stroke-width="1.5" stroke-linejoin="round"/>
<path d="M565.48,334 L560.91,338 L565.56,341.8 M565.48,334 L569.94,338 L565.56,341.8 M565.56,341.8 L558.87,347.6 L565.68,353.5 M565.56,341.8 L572.1,347.6 L565.68,353.5 M565.68,353.5 L556.65,358 L565.81,365.3 M565.68,353.5 L574.44,358 L565.81,365.3 M565.81,365.3 L553.97,370.6 L565.93,376.5 M565.81,365.3 L577.27,370.6 L565.93,376.5 M565.93,376.5 L551.2,383.6 L566.1,392.6 M565.93,376.5 L580.2,383.6 L566.1,392.6 " fill="none" stroke="#1a1a1a" stroke-width="1.25" stroke-linejoin="round"/>
<path d="M551.9,284.4 A16.09,16.09 0 0 0 551.9,314.5 A32.46,32.46 0 0 1 551.9,284.4 Z" fill="#111" stroke="#111" stroke-width="0.6" stroke-linejoin="round"/>
<path d="M542.3,278 A22.91,22.91 0 0 0 542.3,320.7 A38.31,38.31 0 0 1 542.3,278 Z" fill="#111" stroke="#111" stroke-width="0.6" stroke-linejoin="round"/>
<path d="M578.7,284.4 A16.09,16.09 0 0 1 578.7,314.5 A32.46,32.46 0 0 0 578.7,284.4 Z" fill="#111" stroke="#111" stroke-width="0.6" stroke-linejoin="round"/>
<path d="M588.3,278 A22.91,22.91 0 0 1 588.3,320.7 A38.31,38.31 0 0 0 588.3,278 Z" fill="#111" stroke="#111" stroke-width="0.6" stroke-linejoin="round"/>
<rect x="546.3" y="455.5" width="39.4" height="70.7" rx="5.5" fill="none" stroke="#222" stroke-width="1.8"/>
<rect x="550.1" y="461.3" width="31.1" height="55.7" rx="0" fill="none" stroke="#222" stroke-width="1.6"/>
<line x1="562" y1="458.6" x2="570.6" y2="458.6" stroke="#222" stroke-width="2.2" stroke-linecap="round"/>
<circle cx="565.7" cy="521.7" r="2.7" fill="none" stroke="#222" stroke-width="1.3" />
<path d="M549,618.2 C548.5,617 546.78,613.27 546,611 C545.22,608.73 544.4,607.1 544.3,604.6 C544.2,602.1 544.77,598.22 545.4,596 C546.03,593.78 546.67,592.75 548.1,591.3 C549.53,589.85 551.27,588.37 554,587.3 C556.73,586.23 561,584.9 564.5,584.9 C568,584.9 572.08,585.92 575,587.3 C577.92,588.68 580.37,590.88 582,593.2 C583.63,595.52 584.43,598.57 584.8,601.2 C585.17,603.83 584.87,606.17 584.2,609 C583.53,611.83 581.37,616.67 580.8,618.2" fill="none" stroke="#222" stroke-width="1.45" />
<path d="M549,618.2 C549.2,616.5 549.93,611.1 550.2,608 C550.47,604.9 549.87,601.5 550.6,599.6 C551.33,597.7 552.93,596.9 554.6,596.6 C556.27,596.3 558.53,597 560.6,597.8 C562.67,598.6 564.93,600.67 567,601.4 C569.07,602.13 571.13,602.27 573,602.2 C574.87,602.13 577.03,599.93 578.2,601 C579.37,602.07 579.57,605.73 580,608.6 C580.43,611.47 580.67,616.6 580.8,618.2" fill="none" stroke="#222" stroke-width="1.45" />
<path d="M546.3,621.4 C546.72,622.17 547.72,624.53 548.8,626 C549.88,627.47 551.27,628.8 552.8,630.2 C554.33,631.6 556.03,633.33 558,634.4 C559.97,635.47 562.43,636.6 564.6,636.6 C566.77,636.6 569.13,635.47 571,634.4 C572.87,633.33 574.3,631.6 575.8,630.2 C577.3,628.8 578.83,627.47 580,626 C581.17,624.53 582.33,622.17 582.8,621.4" fill="none" stroke="#222" stroke-width="1.45" />
<path d="M544.6,608.6 C544.22,609 542.7,610.03 542.3,611 C541.9,611.97 542.02,613.23 542.2,614.4 C542.38,615.57 542.72,616.8 543.4,618 C544.08,619.2 545.82,621 546.3,621.6" fill="none" stroke="#222" stroke-width="1.45" />
<path d="M584.4,608.6 C584.82,609 586.43,610.03 586.9,611 C587.37,611.97 587.38,613.23 587.2,614.4 C587.02,615.57 586.53,616.8 585.8,618 C585.07,619.2 583.3,621 582.8,621.6" fill="none" stroke="#222" stroke-width="1.45" />
<path d="M554.3,632.4 C554.33,633.33 554.38,636.17 554.5,638 C554.62,639.83 554.22,641.47 555,643.4 C555.78,645.33 557.52,647.93 559.2,649.6 C560.88,651.27 563.13,653.4 565.1,653.4 C567.07,653.4 569.32,651.27 571,649.6 C572.68,647.93 574.38,645.33 575.2,643.4 C576.02,641.47 575.77,639.83 575.9,638 C576.03,636.17 575.98,633.33 576,632.4" fill="none" stroke="#222" stroke-width="1.45" />
<path d="M551.6,637.6 L543.6,655.6 L559.2,649.8 L565.1,660.6 L571,649.8 L585.4,656.6 L576.4,637.6" fill="none" stroke="#222" stroke-width="1.45" stroke-linejoin="round"/>
<path d="M551.4,638.2 C549.5,639.07 543.67,641.73 540,643.4 C536.33,645.07 531.57,646.77 529.4,648.2 C527.23,649.63 527.5,649.6 527,652 C526.5,654.4 525.4,660.4 526.4,662.6 C527.4,664.8 529.4,664.33 533,665.2 C536.6,666.07 542.65,667.13 548,667.8 C553.35,668.47 559.43,669.2 565.1,669.2 C570.77,669.2 576.65,668.47 582,667.8 C587.35,667.13 593.67,666.07 597.2,665.2 C600.73,664.33 602.27,664.8 603.2,662.6 C604.13,660.4 603.2,654.4 602.8,652 C602.4,649.6 602.93,649.63 600.8,648.2 C598.67,646.77 594.07,645.13 590,643.4 C585.93,641.67 578.67,638.73 576.4,637.8" fill="none" stroke="#222" stroke-width="1.45" />
<rect x="102.4" y="7.1" width="127.2" height="67.9" fill="none" stroke="#222" stroke-width="1.3" stroke-dasharray="3.8 1.3"/>
<line x1="102.4" y1="75" x2="225" y2="250.8" stroke="#222" stroke-width="1.3" stroke-dasharray="3.8 1.3"/>
<line x1="229.6" y1="75" x2="225.2" y2="235.6" stroke="#222" stroke-width="1.3" stroke-dasharray="3.8 1.3"/>
<text transform="translate(160.4 100.7) scale(1 1.08)" font-size="12.9" text-anchor="start" fill="#222" stroke="#222" stroke-width="0.4" >106</text>
<path d="M171.2,75.4 C170.2,79 174.6,82 173.7,85.6 C173,88.4 171,89.4 171.2,91.6" fill="none" stroke="#222" stroke-width="1.2" />
<path d="M130,72.6 L114,72.4 Q107,71.6 107,64 L107,46 Q107,39.4 111,34.4 L128.2,12.8 Q131,9.5 135.6,9.5 L198.4,9.5 Q203,9.5 205.8,12.8 L223.4,34.4 Q227.6,39.4 227.6,46 L227.6,64 Q227.6,71.6 220.4,72.4 L204,72.6" fill="none" stroke="#222" stroke-width="1.2" />
<path d="M117.6,36.6 L136.6,19.8 Q138.4,18.2 141,18.2 L193,18.2 Q195.6,18.2 197.4,19.8 L216.4,36.6" fill="none" stroke="#222" stroke-width="1.2" />
<path d="M133.4,34.2 L139.4,23.6 Q140.4,22.2 142.4,22.2 L191.8,22.2 Q193.8,22.2 194.8,23.6 L200.6,34.2" fill="none" stroke="#222" stroke-width="2.3" />
<path d="M137.2,72 C141,70.6 143.8,64 147.6,63.8 L186.4,63.8 C190.4,64 193,70.6 196.8,72" fill="none" stroke="#222" stroke-width="2" />
<path d="M139.7,23 L139.7,60.9 L194.9,60.9 L194.9,23" fill="none" stroke="#222" stroke-width="1.5" />
<line x1="139.7" y1="60.9" x2="194.9" y2="60.9" stroke="#222" stroke-width="2" />
<path d="M142.8,26.8 q3.4,-3 6.8,0 M146.2,25.4 l0,2.6" fill="none" stroke="#222" stroke-width="1.8" />
<path d="M156.8,26.8 q3.4,-3 6.8,0 M160.2,25.4 l0,2.6" fill="none" stroke="#222" stroke-width="1.8" />
<path d="M170.8,26.8 q3.4,-3 6.8,0 M174.2,25.4 l0,2.6" fill="none" stroke="#222" stroke-width="1.8" />
<path d="M184.8,26.8 q3.4,-3 6.8,0 M188.2,25.4 l0,2.6" fill="none" stroke="#222" stroke-width="1.8" />
<text transform="translate(166.6 41.7) scale(1 1.08)" font-size="13.1" text-anchor="middle" fill="#222" stroke="#222" stroke-width="0.4" >34,500</text>
<text transform="translate(166.4 57.5) scale(1 1.08)" font-size="13.1" text-anchor="middle" fill="#222" stroke="#222" stroke-width="0.4" >miles</text>
<circle cx="128.3" cy="53" r="18.5" fill="#fff" stroke="#222" stroke-width="2.6" />
<path d="M121.88,66.78 A15.2,15.2 0 1 1 140.75,44.28" fill="none" stroke="#333" stroke-width="2.6" stroke-dasharray="0.8 1.3"/>
<path d="M128.3,50 L128.3,36.4 L134.4,36.4" fill="none" stroke="#111" stroke-width="1.9" />
<circle cx="128.3" cy="53.2" r="2.6" fill="#ccc" stroke="#111" stroke-width="1.8" />
<path d="M142.2,43.2 C137,46 137,60 142.2,62.8" fill="none" stroke="#111" stroke-width="2.2" />
<path d="M142.2,43.2 C145.4,48 145.4,58 142.2,62.8" fill="none" stroke="#222" stroke-width="1" />
<line x1="141.6" y1="45.4" x2="141.6" y2="61" stroke="#444" stroke-width="1.6" stroke-dasharray="0.7 1.2"/>
<circle cx="205.7" cy="53" r="18.5" fill="#fff" stroke="#222" stroke-width="2.6" />
<path d="M192.54,60.6 A15.2,15.2 0 1 1 218.86,60.6" fill="none" stroke="#333" stroke-width="2.6" stroke-dasharray="0.8 1.3"/>
<line x1="205.7" y1="51" x2="205.7" y2="35.6" stroke="#111" stroke-width="1.9" />
<path d="M199.1,56.6 A6.6,6.6 0 0 1 212.3,56.6" fill="none" stroke="#222" stroke-width="1" />
<path d="M202.3,55.6 A4,4.6 0 0 1 209.1,55.6 Z" fill="#111" stroke="#111" stroke-width="0.6" />
<circle cx="205.7" cy="53.6" r="1" fill="#bbb" stroke="#222" stroke-width="0" />
<rect x="197.4" y="57.9" width="17.6" height="3" rx="0" fill="#222" stroke="#222" stroke-width="0.6"/>
<line x1="198.4" y1="59.4" x2="214.4" y2="59.4" stroke="#ddd" stroke-width="0.9" stroke-dasharray="1.2 1.7"/>
<text transform="translate(352.8 752.7) scale(1 1.08)" font-size="20.6" text-anchor="middle" fill="#222" stroke="#222" stroke-width="0.4" >FIG. 1</text>
<g opacity="0.8">
<g fill="none" stroke="#666" stroke-width="6.2" stroke-linejoin="miter">
<path d="M138.8,389.7 L138.8,372.6 L158.8,372.6 M138.8,381.4 L155.6,381.4"/>
<rect x="163.2" y="372.6" width="24.6" height="14" rx="6.6"/>
<path d="M196.4,389.7 L196.4,372.6 L213.6,372.6 Q219.6,372.6 219.6,377.4 Q219.6,382.2 213.6,382.2 L197,382.2 M209.6,382.6 L219.8,389.7"/>
<path d="M227.8,372.6 L244.4,372.6 Q253.4,372.6 253.4,379.6 Q253.4,386.6 244.4,386.6 L227.8,386.6 Z"/>
</g>
<text x="260.6" y="389.0" font-size="29.2" fill="#666" stroke="#666" stroke-width="0.9" textLength="272.2" lengthAdjust="spacing">AUTHORITY.COM</text>
</g>
</g>
</svg>
</body>
</html>
